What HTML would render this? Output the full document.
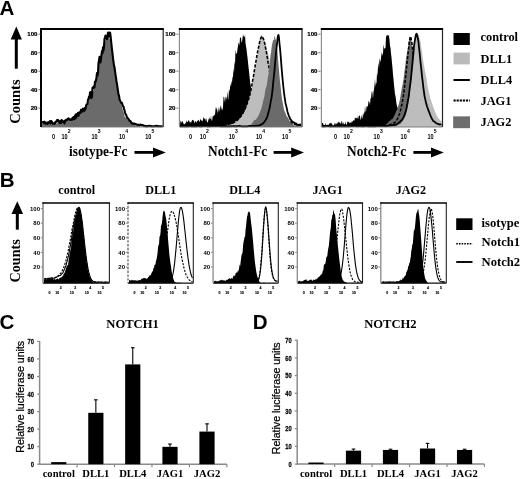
<!DOCTYPE html>
<html><head><meta charset="utf-8"><title>Figure</title>
<style>html,body{margin:0;padding:0;background:#fff;width:520px;height:479px;overflow:hidden;font-family:"Liberation Sans",sans-serif}svg{display:block;filter:blur(0.3px)}</style>
</head><body>
<svg width="520" height="479" viewBox="0 0 520 479"><text x="-0.6" y="14.8" font-family="Liberation Sans, sans-serif" font-weight="bold" font-size="20.6">A</text>
<rect x="14.80" y="38.50" width="3.00" height="30.20" fill="#000"/>
<path d="M16.30,26.40 L10.70,39.50 L21.90,39.50 Z" fill="#000"/>
<text transform="translate(20.4,123.8) rotate(-90)" font-family="Liberation Serif, serif" font-weight="bold" font-size="14.5">Counts</text>
<path d="M42.00,127.10 L42.00,123.91 L42.50,123.41 L43.00,123.73 L43.50,124.19 L44.00,123.92 L44.50,123.53 L45.00,123.18 L45.50,123.06 L46.00,123.29 L46.50,123.07 L47.00,122.24 L47.50,122.43 L48.00,122.67 L48.50,123.22 L49.00,123.39 L49.50,123.31 L50.00,123.31 L50.50,123.85 L51.00,123.70 L51.50,123.36 L52.00,122.85 L52.50,122.80 L53.00,123.19 L53.50,122.93 L54.00,123.19 L54.50,123.25 L55.00,123.70 L55.50,123.90 L56.00,124.09 L56.50,123.60 L57.00,122.99 L57.50,122.64 L58.00,122.36 L58.50,122.28 L59.00,122.29 L59.50,121.91 L60.00,121.92 L60.50,122.53 L61.00,122.44 L61.50,122.80 L62.00,122.30 L62.50,122.35 L63.00,121.99 L63.50,122.01 L64.00,121.85 L64.50,121.79 L65.00,121.22 L65.50,121.41 L66.00,120.86 L66.50,121.24 L67.00,120.69 L67.50,120.58 L68.00,120.42 L68.50,120.73 L69.00,120.24 L69.50,120.22 L70.00,119.61 L70.50,119.87 L71.00,119.72 L71.50,119.44 L72.00,118.96 L72.50,118.91 L73.00,118.77 L73.50,119.18 L74.00,119.13 L74.50,119.16 L75.00,118.89 L75.50,118.27 L76.00,117.76 L76.50,117.20 L77.00,116.46 L77.50,115.58 L78.00,115.04 L78.50,114.59 L79.00,114.10 L79.50,114.09 L80.00,114.23 L80.50,113.36 L81.00,113.03 L81.50,112.23 L82.00,111.65 L82.50,112.13 L83.00,110.52 L83.50,108.95 L84.00,108.94 L84.50,108.03 L85.00,107.62 L85.50,107.55 L86.00,106.31 L86.50,106.32 L87.00,105.71 L87.50,104.55 L88.00,103.88 L88.50,102.30 L89.00,101.16 L89.50,99.59 L90.00,98.03 L90.50,97.45 L91.00,97.41 L91.50,96.56 L92.00,95.74 L92.50,93.60 L93.00,91.65 L93.50,91.23 L94.00,89.41 L94.50,86.25 L95.00,83.98 L95.50,83.68 L96.00,81.58 L96.50,79.09 L97.00,75.72 L97.50,74.17 L98.00,72.70 L98.50,70.20 L99.00,64.50 L99.50,62.27 L100.00,61.48 L100.50,58.70 L101.00,55.68 L101.50,51.56 L102.00,49.89 L102.50,49.93 L103.00,47.63 L103.50,44.42 L104.00,43.12 L104.50,40.88 L105.00,42.20 L105.50,40.62 L106.00,39.30 L106.50,39.13 L107.00,38.79 L107.50,38.80 L108.00,37.72 L108.50,36.37 L109.00,37.30 L109.50,38.39 L110.00,39.73 L110.50,42.05 L111.00,45.05 L111.50,49.03 L112.00,53.53 L112.50,55.51 L113.00,58.10 L113.50,62.22 L114.00,66.81 L114.50,70.90 L115.00,74.10 L115.50,76.46 L116.00,79.37 L116.50,83.25 L117.00,86.58 L117.50,90.50 L118.00,91.66 L118.50,94.16 L119.00,97.44 L119.50,100.60 L120.00,103.47 L120.50,103.34 L121.00,103.53 L121.50,105.58 L122.00,107.30 L122.50,108.96 L123.00,110.42 L123.50,111.64 L124.00,113.82 L124.50,115.98 L125.00,117.39 L125.50,117.77 L126.00,117.36 L126.50,118.43 L127.00,119.12 L127.50,119.67 L128.00,119.44 L128.50,120.03 L129.00,121.05 L129.50,122.11 L130.00,122.53 L130.50,122.71 L131.00,122.99 L131.50,123.36 L132.00,123.01 L132.50,123.18 L133.00,123.35 L133.50,123.57 L134.00,123.71 L134.50,124.43 L135.00,125.10 L135.50,125.52 L136.00,125.41 L136.50,125.38 L137.00,125.13 L137.50,125.20 L138.00,125.23 L138.50,125.05 L139.00,125.34 L139.50,125.85 L140.00,126.33 L140.50,126.85 L141.00,126.95 L141.50,126.88 L142.00,127.02 L142.50,126.81 L143.00,126.68 L143.50,126.41 L144.00,126.07 L144.50,126.24 L145.00,126.57 L145.50,126.44 L146.00,126.77 L146.50,126.65 L147.00,126.71 L147.50,126.77 L148.00,126.58 L148.50,126.62 L149.00,126.65 L149.50,126.67 L150.00,126.96 L150.50,127.08 L151.00,127.10 L151.50,127.10 L152.00,126.74 L152.50,127.05 L153.00,127.05 L153.50,127.10 L154.00,127.10 L154.50,127.10 L155.00,127.10 L155.50,127.10 L156.00,127.10 L156.50,127.10 L157.00,126.97 L157.50,127.07 L158.00,127.10 L158.50,126.94 L159.00,126.84 L159.50,126.88 L160.00,126.99 L160.50,126.87 L161.00,126.75 L161.50,126.68 L162.00,126.94 L162.50,127.10 L162.50,127.10 Z" fill="#6b6b6b" stroke="none"/>
<path d="M42.00,123.12 L42.50,122.29 L43.00,121.99 L43.50,122.08 L44.00,123.20 L44.50,121.65 L45.00,122.57 L45.50,123.70 L46.00,122.52 L46.50,123.38 L47.00,123.59 L47.50,123.87 L48.00,122.34 L48.50,122.89 L49.00,122.14 L49.50,122.19 L50.00,121.04 L50.50,123.43 L51.00,121.83 L51.50,121.09 L52.00,122.37 L52.50,122.59 L53.00,123.79 L53.50,123.67 L54.00,123.40 L54.50,123.72 L55.00,123.46 L55.50,121.73 L56.00,121.87 L56.50,121.76 L57.00,120.03 L57.50,120.38 L58.00,119.96 L58.50,121.36 L59.00,121.05 L59.50,123.07 L60.00,121.09 L60.50,121.16 L61.00,122.92 L61.50,120.15 L62.00,121.81 L62.50,120.78 L63.00,121.89 L63.50,121.82 L64.00,121.35 L64.50,123.50 L65.00,120.64 L65.50,121.28 L66.00,119.87 L66.50,119.54 L67.00,120.07 L67.50,120.00 L68.00,118.66 L68.50,118.32 L69.00,119.50 L69.50,119.11 L70.00,119.86 L70.50,119.86 L71.00,119.35 L71.50,119.70 L72.00,119.89 L72.50,117.85 L73.00,118.59 L73.50,117.02 L74.00,117.42 L74.50,119.33 L75.00,115.74 L75.50,114.95 L76.00,117.85 L76.50,114.17 L77.00,116.20 L77.50,115.80 L78.00,112.80 L78.50,115.67 L79.00,114.23 L79.50,112.24 L80.00,112.76 L80.50,112.85 L81.00,109.71 L81.50,109.76 L82.00,109.86 L82.50,111.62 L83.00,108.47 L83.50,109.37 L84.00,109.75 L84.50,110.61 L85.00,107.82 L85.50,108.93 L86.00,106.30 L86.50,104.47 L87.00,104.25 L87.50,104.07 L88.00,99.49 L88.50,99.58 L89.00,96.48 L89.50,98.17 L90.00,92.59 L90.50,92.05 L91.00,93.89 L91.50,97.95 L92.00,96.79 L92.50,87.92 L93.00,88.17 L93.50,86.53 L94.00,87.87 L94.50,87.13 L95.00,81.54 L95.50,81.94 L96.00,80.39 L96.50,77.14 L97.00,73.12 L97.50,75.84 L98.00,72.91 L98.50,62.95 L99.00,60.37 L99.50,56.89 L100.00,61.29 L100.50,62.49 L101.00,58.51 L101.50,54.59 L102.00,51.12 L102.50,53.20 L103.00,47.33 L103.50,50.68 L104.00,46.62 L104.50,38.70 L105.00,38.00 L105.50,35.50 L106.00,38.14 L106.50,37.27 L107.00,39.32 L107.50,36.12 L108.00,32.56 L108.50,32.56 L109.00,36.55 L109.50,36.54 L110.00,32.56 L110.50,35.23 L111.00,40.23 L111.50,44.79 L112.00,49.75 L112.50,53.31 L113.00,58.15 L113.50,61.81 L114.00,65.60 L114.50,67.10 L115.00,71.10 L115.50,74.66 L116.00,77.88 L116.50,81.43 L117.00,84.02 L117.50,87.56 L118.00,91.23 L118.50,94.40 L119.00,95.69 L119.50,98.71 L120.00,100.63 L120.50,101.63 L121.00,102.75 L121.50,102.56 L122.00,103.08 L122.50,105.19 L123.00,106.37 L123.50,106.59 L124.00,108.83 L124.50,110.13 L125.00,112.48 L125.50,113.99 L126.00,114.70 L126.50,115.76 L127.00,117.56 L127.50,117.93 L128.00,118.49 L128.50,119.23 L129.00,119.77 L129.50,120.93 L130.00,121.08 L130.50,121.16 L131.00,122.29 L131.50,122.83 L132.00,123.58 L132.50,123.63 L133.00,123.34 L133.50,123.63 L134.00,123.79 L134.50,123.57 L135.00,124.03 L135.50,123.97 L136.00,124.26 L136.50,124.51 L137.00,124.68 L137.50,124.73 L138.00,124.56 L138.50,124.98 L139.00,124.94 L139.50,124.98 L140.00,124.60 L140.50,124.58 L141.00,125.09 L141.50,125.40 L142.00,125.10 L142.50,125.07 L143.00,125.28 L143.50,125.76 L144.00,125.99 L144.50,125.77 L145.00,125.98 L145.50,126.24 L146.00,126.30 L146.50,126.06 L147.00,126.09 L147.50,126.26 L148.00,126.24 L148.50,126.08 L149.00,125.84 L149.50,125.94 L150.00,125.90 L150.50,126.08 L151.00,126.03 L151.50,126.30 L152.00,126.30 L152.50,126.30 L153.00,126.30 L153.50,126.30 L154.00,126.30 L154.50,126.30 L155.00,126.30 L155.50,125.99 L156.00,125.90 L156.50,126.02 L157.00,125.86 L157.50,126.28 L158.00,126.01 L158.50,126.19 L159.00,126.30 L159.50,126.30 L160.00,126.30 L160.50,126.30 L161.00,126.30 L161.50,126.30 L162.00,126.30 L162.50,126.30" fill="none" stroke="#000" stroke-width="2.1" stroke-linejoin="round"/>
<path d="M180.00,127.10 L180.00,124.19 L180.50,121.16 L181.00,120.43 L181.50,122.66 L182.00,122.45 L182.50,120.75 L183.00,121.99 L183.50,123.90 L184.00,123.70 L184.50,124.13 L185.00,124.15 L185.50,122.58 L186.00,123.49 L186.50,119.99 L187.00,122.32 L187.50,121.80 L188.00,121.43 L188.50,120.50 L189.00,119.97 L189.50,122.02 L190.00,122.46 L190.50,121.74 L191.00,123.61 L191.50,121.30 L192.00,120.52 L192.50,119.63 L193.00,120.34 L193.50,120.57 L194.00,120.68 L194.50,123.38 L195.00,122.03 L195.50,121.52 L196.00,120.43 L196.50,123.31 L197.00,121.60 L197.50,121.12 L198.00,119.96 L198.50,119.84 L199.00,121.18 L199.50,122.36 L200.00,119.64 L200.50,119.08 L201.00,120.25 L201.50,120.72 L202.00,120.29 L202.50,121.64 L203.00,119.10 L203.50,116.67 L204.00,119.57 L204.50,118.42 L205.00,118.01 L205.50,121.29 L206.00,117.94 L206.50,119.43 L207.00,122.12 L207.50,122.52 L208.00,121.54 L208.50,119.55 L209.00,118.37 L209.50,119.60 L210.00,115.95 L210.50,119.04 L211.00,118.94 L211.50,121.34 L212.00,115.04 L212.50,120.93 L213.00,114.95 L213.50,116.39 L214.00,115.80 L214.50,114.57 L215.00,115.32 L215.50,109.09 L216.00,107.06 L216.50,108.47 L217.00,110.05 L217.50,113.81 L218.00,106.91 L218.50,112.44 L219.00,106.53 L219.50,111.89 L220.00,107.77 L220.50,104.79 L221.00,110.45 L221.50,106.29 L222.00,110.68 L222.50,109.23 L223.00,107.36 L223.50,97.12 L224.00,96.68 L224.50,99.41 L225.00,102.77 L225.50,96.96 L226.00,97.06 L226.50,100.06 L227.00,95.60 L227.50,91.20 L228.00,100.63 L228.50,97.25 L229.00,88.86 L229.50,91.98 L230.00,87.95 L230.50,83.45 L231.00,86.46 L231.50,81.32 L232.00,82.47 L232.50,77.15 L233.00,76.43 L233.50,68.02 L234.00,73.09 L234.50,61.21 L235.00,64.86 L235.50,49.25 L236.00,53.38 L236.50,53.62 L237.00,53.20 L237.50,48.94 L238.00,46.06 L238.50,42.98 L239.00,42.85 L239.50,45.72 L240.00,36.92 L240.50,37.87 L241.00,37.68 L241.50,42.72 L242.00,41.80 L242.50,38.37 L243.00,34.28 L243.50,36.28 L244.00,36.87 L244.50,37.36 L245.00,34.28 L245.50,43.06 L246.00,45.93 L246.50,49.36 L247.00,53.75 L247.50,57.43 L248.00,62.26 L248.50,67.00 L249.00,71.54 L249.50,76.12 L250.00,81.09 L250.50,84.59 L251.00,87.30 L251.50,91.61 L252.00,94.53 L252.50,95.59 L253.00,97.28 L253.50,99.54 L254.00,101.91 L254.50,104.79 L255.00,105.14 L255.50,106.94 L256.00,109.57 L256.50,111.23 L257.00,112.83 L257.50,114.14 L258.00,114.83 L258.50,116.58 L259.00,117.31 L259.50,117.80 L260.00,119.21 L260.50,119.61 L261.00,120.10 L261.50,121.61 L262.00,122.24 L262.50,122.82 L263.00,123.15 L263.50,123.10 L264.00,123.54 L264.50,123.48 L265.00,123.77 L265.50,123.98 L266.00,123.98 L266.50,124.35 L267.00,124.85 L267.50,125.04 L268.00,125.64 L268.50,125.51 L269.00,125.46 L269.50,126.09 L270.00,126.16 L270.50,126.23 L271.00,126.34 L271.50,126.14 L272.00,126.05 L272.50,126.16 L273.00,126.35 L273.50,126.36 L274.00,126.64 L274.50,126.83 L275.00,127.10 L275.50,127.10 L276.00,127.10 L276.50,127.06 L277.00,126.92 L277.50,126.52 L278.00,126.33 L278.50,126.08 L279.00,126.45 L279.50,126.19 L280.00,126.32 L280.50,126.69 L281.00,126.89 L281.50,126.90 L282.00,127.10 L282.50,126.91 L283.00,126.94 L283.50,127.10 L284.00,127.08 L284.50,127.10 L285.00,127.10 L285.50,127.10 L286.00,127.05 L286.50,127.09 L287.00,126.97 L287.50,126.96 L288.00,127.07 L288.50,126.78 L289.00,126.87 L289.50,126.96 L290.00,126.92 L290.50,126.91 L291.00,126.63 L291.50,126.47 L292.00,126.58 L292.50,126.40 L293.00,126.63 L293.50,126.47 L294.00,126.60 L294.50,126.90 L295.00,126.96 L295.50,126.89 L296.00,127.10 L296.50,127.10 L297.00,127.10 L297.50,126.93 L298.00,127.07 L298.50,126.68 L299.00,127.02 L299.50,127.06 L300.00,127.10 L300.50,126.93 L301.00,127.09 L301.00,127.10 Z" fill="#000" stroke="none"/>
<path d="M180.00,127.10 L180.00,127.10 L180.50,127.10 L181.00,127.10 L181.50,127.10 L182.00,127.10 L182.50,127.10 L183.00,127.10 L183.50,127.10 L184.00,127.10 L184.50,126.95 L185.00,126.87 L185.50,126.92 L186.00,127.01 L186.50,127.10 L187.00,126.92 L187.50,126.92 L188.00,127.03 L188.50,126.86 L189.00,126.92 L189.50,127.01 L190.00,127.10 L190.50,127.10 L191.00,127.10 L191.50,127.10 L192.00,127.10 L192.50,127.10 L193.00,127.10 L193.50,127.10 L194.00,126.84 L194.50,126.83 L195.00,126.78 L195.50,126.93 L196.00,126.73 L196.50,126.64 L197.00,126.70 L197.50,126.81 L198.00,126.87 L198.50,126.81 L199.00,126.92 L199.50,126.99 L200.00,126.93 L200.50,127.04 L201.00,127.04 L201.50,126.85 L202.00,126.95 L202.50,126.88 L203.00,126.69 L203.50,126.49 L204.00,126.57 L204.50,126.61 L205.00,126.80 L205.50,126.90 L206.00,126.63 L206.50,126.68 L207.00,126.97 L207.50,126.80 L208.00,126.80 L208.50,126.87 L209.00,126.78 L209.50,126.75 L210.00,127.02 L210.50,126.92 L211.00,126.82 L211.50,126.65 L212.00,126.36 L212.50,126.31 L213.00,126.53 L213.50,126.28 L214.00,126.40 L214.50,126.34 L215.00,126.52 L215.50,126.72 L216.00,126.80 L216.50,126.87 L217.00,127.08 L217.50,127.00 L218.00,127.10 L218.50,126.95 L219.00,126.81 L219.50,126.73 L220.00,126.67 L220.50,126.33 L221.00,126.16 L221.50,126.23 L222.00,126.37 L222.50,126.54 L223.00,126.33 L223.50,126.06 L224.00,126.13 L224.50,126.13 L225.00,125.82 L225.50,125.36 L226.00,125.21 L226.50,125.28 L227.00,125.11 L227.50,124.53 L228.00,124.19 L228.50,124.33 L229.00,124.30 L229.50,124.09 L230.00,123.89 L230.50,124.02 L231.00,124.29 L231.50,124.34 L232.00,123.66 L232.50,123.39 L233.00,123.02 L233.50,122.74 L234.00,122.48 L234.50,122.13 L235.00,121.58 L235.50,121.42 L236.00,120.80 L236.50,120.44 L237.00,120.03 L237.50,119.77 L238.00,119.16 L238.50,119.31 L239.00,118.63 L239.50,118.68 L240.00,118.16 L240.50,117.87 L241.00,116.93 L241.50,116.57 L242.00,115.05 L242.50,114.59 L243.00,113.89 L243.50,113.55 L244.00,112.20 L244.50,111.17 L245.00,110.13 L245.50,109.14 L246.00,108.05 L246.50,106.28 L247.00,104.39 L247.50,103.07 L248.00,101.47 L248.50,99.97 L249.00,98.18 L249.50,96.05 L250.00,94.86 L250.50,92.48 L251.00,89.50 L251.50,86.85 L252.00,83.02 L252.50,80.90 L253.00,78.46 L253.50,75.50 L254.00,73.22 L254.50,72.00 L255.00,69.76 L255.50,67.47 L256.00,64.10 L256.50,60.50 L257.00,56.74 L257.50,53.98 L258.00,49.83 L258.50,46.74 L259.00,43.30 L259.50,40.11 L260.00,38.25 L260.50,37.41 L261.00,35.67 L261.50,34.74 L262.00,34.36 L262.50,35.86 L263.00,37.59 L263.50,38.73 L264.00,39.06 L264.50,40.78 L265.00,43.13 L265.50,44.55 L266.00,46.00 L266.50,47.53 L267.00,49.66 L267.50,51.90 L268.00,53.32 L268.50,54.77 L269.00,56.43 L269.50,59.26 L270.00,63.59 L270.50,66.10 L271.00,68.56 L271.50,71.61 L272.00,74.14 L272.50,76.99 L273.00,79.70 L273.50,81.96 L274.00,84.47 L274.50,86.42 L275.00,88.19 L275.50,91.03 L276.00,92.75 L276.50,94.14 L277.00,95.01 L277.50,96.49 L278.00,98.39 L278.50,100.09 L279.00,100.67 L279.50,102.31 L280.00,103.78 L280.50,103.89 L281.00,104.96 L281.50,105.92 L282.00,107.30 L282.50,108.45 L283.00,109.05 L283.50,110.24 L284.00,112.14 L284.50,113.80 L285.00,114.42 L285.50,114.83 L286.00,115.33 L286.50,115.81 L287.00,116.27 L287.50,116.54 L288.00,116.47 L288.50,117.19 L289.00,117.63 L289.50,118.46 L290.00,118.93 L290.50,119.13 L291.00,119.97 L291.50,120.22 L292.00,120.69 L292.50,121.28 L293.00,121.18 L293.50,121.99 L294.00,122.21 L294.50,122.25 L295.00,122.50 L295.50,122.52 L296.00,122.29 L296.50,122.66 L297.00,122.56 L297.50,122.93 L298.00,122.98 L298.50,123.38 L299.00,123.48 L299.50,123.59 L300.00,123.81 L300.50,123.99 L301.00,124.24 L301.00,127.10 Z" fill="#bdbdbd" stroke="none"/>
<path d="M180.00,126.30 L180.50,126.29 L181.00,126.30 L181.50,126.30 L182.00,126.26 L182.50,126.30 L183.00,126.30 L183.50,126.30 L184.00,126.30 L184.50,126.24 L185.00,126.30 L185.50,126.30 L186.00,126.30 L186.50,126.30 L187.00,126.30 L187.50,126.30 L188.00,126.25 L188.50,126.20 L189.00,126.16 L189.50,126.10 L190.00,126.11 L190.50,126.09 L191.00,126.16 L191.50,126.22 L192.00,126.25 L192.50,126.20 L193.00,126.28 L193.50,126.27 L194.00,126.29 L194.50,126.21 L195.00,126.26 L195.50,126.29 L196.00,126.30 L196.50,126.30 L197.00,126.30 L197.50,126.30 L198.00,126.30 L198.50,126.30 L199.00,126.30 L199.50,126.27 L200.00,126.27 L200.50,126.23 L201.00,126.13 L201.50,126.17 L202.00,126.21 L202.50,126.15 L203.00,126.22 L203.50,126.16 L204.00,126.11 L204.50,126.12 L205.00,126.17 L205.50,126.19 L206.00,126.19 L206.50,126.19 L207.00,126.25 L207.50,126.30 L208.00,126.30 L208.50,126.23 L209.00,126.25 L209.50,126.30 L210.00,126.30 L210.50,126.30 L211.00,126.22 L211.50,126.24 L212.00,126.30 L212.50,126.25 L213.00,126.07 L213.50,126.06 L214.00,126.05 L214.50,125.96 L215.00,125.92 L215.50,125.82 L216.00,125.87 L216.50,125.86 L217.00,125.82 L217.50,125.69 L218.00,125.71 L218.50,125.65 L219.00,125.68 L219.50,125.54 L220.00,125.49 L220.50,125.43 L221.00,125.48 L221.50,125.50 L222.00,125.48 L222.50,125.40 L223.00,125.44 L223.50,125.39 L224.00,125.33 L224.50,125.21 L225.00,124.99 L225.50,124.87 L226.00,124.83 L226.50,124.73 L227.00,124.69 L227.50,124.60 L228.00,124.44 L228.50,124.39 L229.00,124.21 L229.50,124.06 L230.00,123.87 L230.50,123.57 L231.00,123.41 L231.50,123.21 L232.00,123.17 L232.50,123.18 L233.00,122.96 L233.50,122.63 L234.00,122.36 L234.50,122.18 L235.00,122.07 L235.50,121.68 L236.00,121.27 L236.50,120.78 L237.00,120.53 L237.50,120.09 L238.00,119.52 L238.50,119.01 L239.00,118.37 L239.50,117.74 L240.00,117.13 L240.50,116.36 L241.00,115.97 L241.50,115.24 L242.00,114.32 L242.50,113.55 L243.00,112.62 L243.50,111.71 L244.00,110.90 L244.50,109.91 L245.00,108.73 L245.50,107.63 L246.00,106.45 L246.50,105.07 L247.00,104.02 L247.50,102.44 L248.00,100.96 L248.50,99.59 L249.00,98.15 L249.50,96.29 L250.00,94.21 L250.50,91.83 L251.00,89.89 L251.50,86.86 L252.00,84.45 L252.50,81.10 L253.00,78.37 L253.50,76.20 L254.00,72.83 L254.50,69.69 L255.00,66.97 L255.50,63.44 L256.00,61.22 L256.50,58.05 L257.00,54.83 L257.50,52.33 L258.00,49.45 L258.50,47.50 L259.00,45.47 L259.50,42.62 L260.00,40.82 L260.50,38.82 L261.00,37.89 L261.50,36.91 L262.00,36.20 L262.50,37.06 L263.00,38.09 L263.50,39.18 L264.00,40.88 L264.50,42.52 L265.00,44.74 L265.50,47.70 L266.00,50.05 L266.50,52.67 L267.00,55.75 L267.50,58.99 L268.00,62.16 L268.50,64.81 L269.00,67.34 L269.50,70.79 L270.00,74.12 L270.50,77.12 L271.00,79.76 L271.50,82.53 L272.00,85.48 L272.50,87.56 L273.00,89.36 L273.50,91.83 L274.00,93.93 L274.50,95.92 L275.00,97.66 L275.50,99.50 L276.00,101.26 L276.50,103.28 L277.00,104.33 L277.50,105.42 L278.00,106.71 L278.50,107.98 L279.00,108.90 L279.50,110.10 L280.00,111.19 L280.50,112.42 L281.00,113.34 L281.50,114.13 L282.00,114.88 L282.50,115.75 L283.00,116.54 L283.50,117.02 L284.00,117.15 L284.50,117.93 L285.00,118.28 L285.50,118.69 L286.00,119.04 L286.50,119.39 L287.00,119.78 L287.50,120.29 L288.00,120.50 L288.50,120.99 L289.00,121.37 L289.50,121.68 L290.00,122.08 L290.50,122.34 L291.00,122.77 L291.50,122.99 L292.00,123.15 L292.50,123.49 L293.00,123.71 L293.50,123.72 L294.00,123.96 L294.50,124.15 L295.00,124.27 L295.50,124.46 L296.00,124.48 L296.50,124.67 L297.00,124.83 L297.50,124.89 L298.00,124.89 L298.50,125.02 L299.00,125.06 L299.50,125.13 L300.00,125.16 L300.50,125.24 L301.00,125.28" fill="none" stroke="#000" stroke-width="1.6" stroke-linejoin="round" stroke-dasharray="3.2,1.6"/>
<path d="M180.00,127.10 L180.00,127.10 L180.50,127.10 L181.00,127.10 L181.50,127.03 L182.00,126.94 L182.50,126.79 L183.00,126.88 L183.50,126.95 L184.00,126.85 L184.50,127.10 L185.00,127.10 L185.50,127.10 L186.00,127.10 L186.50,127.10 L187.00,127.10 L187.50,127.10 L188.00,126.93 L188.50,126.83 L189.00,126.85 L189.50,127.10 L190.00,127.10 L190.50,127.10 L191.00,127.01 L191.50,126.64 L192.00,127.08 L192.50,127.10 L193.00,127.10 L193.50,127.04 L194.00,127.07 L194.50,127.10 L195.00,127.10 L195.50,127.10 L196.00,126.95 L196.50,127.10 L197.00,126.99 L197.50,126.96 L198.00,126.90 L198.50,126.83 L199.00,126.86 L199.50,126.87 L200.00,126.75 L200.50,127.10 L201.00,127.10 L201.50,127.10 L202.00,127.10 L202.50,127.10 L203.00,127.10 L203.50,127.10 L204.00,127.10 L204.50,127.10 L205.00,127.10 L205.50,127.05 L206.00,126.91 L206.50,127.07 L207.00,127.10 L207.50,127.05 L208.00,127.10 L208.50,127.10 L209.00,127.10 L209.50,127.10 L210.00,127.10 L210.50,127.10 L211.00,127.10 L211.50,127.10 L212.00,127.10 L212.50,127.10 L213.00,127.10 L213.50,127.10 L214.00,127.10 L214.50,126.91 L215.00,126.73 L215.50,126.87 L216.00,126.89 L216.50,126.97 L217.00,127.10 L217.50,127.10 L218.00,127.10 L218.50,127.10 L219.00,127.10 L219.50,127.10 L220.00,127.10 L220.50,126.87 L221.00,126.83 L221.50,126.84 L222.00,126.83 L222.50,127.10 L223.00,127.10 L223.50,127.10 L224.00,127.09 L224.50,127.10 L225.00,126.89 L225.50,126.66 L226.00,126.12 L226.50,126.33 L227.00,126.26 L227.50,126.48 L228.00,126.25 L228.50,126.45 L229.00,126.81 L229.50,127.07 L230.00,126.57 L230.50,126.59 L231.00,126.64 L231.50,126.71 L232.00,126.56 L232.50,126.39 L233.00,126.35 L233.50,126.61 L234.00,126.80 L234.50,126.80 L235.00,126.90 L235.50,127.10 L236.00,127.10 L236.50,127.10 L237.00,127.10 L237.50,127.10 L238.00,127.10 L238.50,127.00 L239.00,126.57 L239.50,126.39 L240.00,126.61 L240.50,126.48 L241.00,126.38 L241.50,126.39 L242.00,126.48 L242.50,126.76 L243.00,126.75 L243.50,126.56 L244.00,126.41 L244.50,126.30 L245.00,126.25 L245.50,126.41 L246.00,126.26 L246.50,125.93 L247.00,125.80 L247.50,126.21 L248.00,125.82 L248.50,125.53 L249.00,125.31 L249.50,125.03 L250.00,125.52 L250.50,125.60 L251.00,124.50 L251.50,123.91 L252.00,123.13 L252.50,122.76 L253.00,122.33 L253.50,121.03 L254.00,120.47 L254.50,119.83 L255.00,120.03 L255.50,119.95 L256.00,119.46 L256.50,118.72 L257.00,118.25 L257.50,116.78 L258.00,116.85 L258.50,115.73 L259.00,114.25 L259.50,113.19 L260.00,112.03 L260.50,110.59 L261.00,109.84 L261.50,108.00 L262.00,105.79 L262.50,104.33 L263.00,101.64 L263.50,99.62 L264.00,98.17 L264.50,95.52 L265.00,91.88 L265.50,89.33 L266.00,87.84 L266.50,86.36 L267.00,83.77 L267.50,79.63 L268.00,76.56 L268.50,74.39 L269.00,71.23 L269.50,65.88 L270.00,60.39 L270.50,55.13 L271.00,52.67 L271.50,48.33 L272.00,44.45 L272.50,43.03 L273.00,40.20 L273.50,39.67 L274.00,40.46 L274.50,35.87 L275.00,36.70 L275.50,39.25 L276.00,40.23 L276.50,44.45 L277.00,48.77 L277.50,52.35 L278.00,58.59 L278.50,64.93 L279.00,70.31 L279.50,76.47 L280.00,81.39 L280.50,85.41 L281.00,90.07 L281.50,95.19 L282.00,98.89 L282.50,101.81 L283.00,104.09 L283.50,107.05 L284.00,109.45 L284.50,111.04 L285.00,112.21 L285.50,113.04 L286.00,114.76 L286.50,116.36 L287.00,117.24 L287.50,117.54 L288.00,118.62 L288.50,119.60 L289.00,120.94 L289.50,121.57 L290.00,121.84 L290.50,122.31 L291.00,122.88 L291.50,123.65 L292.00,123.84 L292.50,124.17 L293.00,124.29 L293.50,125.18 L294.00,125.57 L294.50,126.12 L295.00,125.80 L295.50,126.08 L296.00,125.86 L296.50,126.16 L297.00,125.61 L297.50,125.78 L298.00,125.47 L298.50,125.82 L299.00,126.06 L299.50,126.19 L300.00,126.25 L300.50,126.59 L301.00,126.76 L301.00,127.10 Z" fill="#6b6b6b" stroke="none"/>
<path d="M180.00,126.30 L180.50,126.30 L181.00,126.30 L181.50,126.30 L182.00,126.30 L182.50,126.24 L183.00,126.26 L183.50,126.27 L184.00,126.30 L184.50,126.30 L185.00,126.27 L185.50,126.30 L186.00,126.30 L186.50,126.30 L187.00,126.30 L187.50,126.24 L188.00,126.22 L188.50,126.24 L189.00,126.20 L189.50,126.03 L190.00,126.02 L190.50,126.20 L191.00,126.15 L191.50,126.30 L192.00,126.25 L192.50,126.15 L193.00,126.30 L193.50,126.26 L194.00,126.26 L194.50,126.30 L195.00,126.30 L195.50,126.30 L196.00,126.30 L196.50,126.30 L197.00,126.25 L197.50,126.19 L198.00,126.15 L198.50,126.20 L199.00,126.19 L199.50,126.30 L200.00,126.30 L200.50,126.30 L201.00,126.30 L201.50,126.30 L202.00,126.30 L202.50,126.20 L203.00,125.94 L203.50,125.94 L204.00,125.93 L204.50,125.78 L205.00,125.85 L205.50,125.92 L206.00,126.09 L206.50,126.01 L207.00,126.17 L207.50,126.30 L208.00,126.30 L208.50,126.23 L209.00,126.21 L209.50,126.30 L210.00,126.30 L210.50,126.28 L211.00,126.05 L211.50,126.03 L212.00,126.02 L212.50,126.06 L213.00,125.86 L213.50,125.91 L214.00,126.06 L214.50,126.22 L215.00,126.14 L215.50,126.20 L216.00,126.18 L216.50,126.16 L217.00,126.10 L217.50,125.95 L218.00,125.90 L218.50,125.98 L219.00,126.13 L219.50,126.10 L220.00,126.18 L220.50,126.30 L221.00,126.30 L221.50,126.30 L222.00,126.30 L222.50,126.26 L223.00,126.30 L223.50,126.30 L224.00,126.30 L224.50,126.30 L225.00,126.29 L225.50,126.30 L226.00,126.30 L226.50,126.27 L227.00,126.30 L227.50,126.29 L228.00,126.14 L228.50,126.30 L229.00,126.28 L229.50,126.30 L230.00,126.27 L230.50,126.08 L231.00,126.14 L231.50,126.30 L232.00,126.19 L232.50,126.11 L233.00,126.08 L233.50,126.15 L234.00,126.30 L234.50,126.12 L235.00,126.10 L235.50,126.26 L236.00,126.26 L236.50,126.27 L237.00,126.23 L237.50,126.14 L238.00,126.20 L238.50,126.00 L239.00,125.93 L239.50,125.92 L240.00,126.03 L240.50,126.21 L241.00,126.14 L241.50,126.30 L242.00,126.30 L242.50,126.30 L243.00,126.30 L243.50,126.30 L244.00,126.30 L244.50,126.30 L245.00,126.30 L245.50,126.30 L246.00,126.30 L246.50,126.30 L247.00,126.30 L247.50,126.30 L248.00,126.19 L248.50,126.08 L249.00,126.05 L249.50,125.93 L250.00,126.00 L250.50,125.93 L251.00,125.94 L251.50,126.02 L252.00,126.09 L252.50,126.10 L253.00,126.17 L253.50,126.05 L254.00,125.99 L254.50,126.05 L255.00,125.95 L255.50,125.85 L256.00,125.82 L256.50,125.69 L257.00,125.80 L257.50,125.84 L258.00,125.71 L258.50,125.60 L259.00,125.53 L259.50,125.33 L260.00,125.26 L260.50,124.95 L261.00,124.63 L261.50,124.16 L262.00,124.16 L262.50,123.79 L263.00,123.44 L263.50,122.87 L264.00,122.27 L264.50,121.53 L265.00,120.99 L265.50,120.16 L266.00,119.19 L266.50,118.43 L267.00,117.43 L267.50,115.93 L268.00,114.19 L268.50,112.33 L269.00,110.16 L269.50,108.40 L270.00,106.03 L270.50,102.84 L271.00,100.14 L271.50,97.93 L272.00,94.22 L272.50,90.08 L273.00,84.82 L273.50,79.42 L274.00,75.57 L274.50,70.40 L275.00,64.03 L275.50,58.91 L276.00,52.70 L276.50,48.25 L277.00,43.73 L277.50,38.76 L278.00,35.60 L278.50,34.99 L279.00,37.90 L279.50,43.78 L280.00,48.20 L280.50,54.00 L281.00,60.09 L281.50,66.85 L282.00,72.60 L282.50,78.39 L283.00,83.27 L283.50,88.28 L284.00,92.51 L284.50,96.42 L285.00,99.69 L285.50,102.96 L286.00,105.12 L286.50,107.02 L287.00,109.43 L287.50,111.71 L288.00,113.39 L288.50,114.75 L289.00,116.10 L289.50,117.03 L290.00,118.57 L290.50,119.42 L291.00,119.92 L291.50,120.46 L292.00,121.34 L292.50,121.76 L293.00,122.30 L293.50,122.21 L294.00,122.48 L294.50,122.82 L295.00,123.32 L295.50,123.29 L296.00,123.58 L296.50,124.17 L297.00,124.66 L297.50,124.77 L298.00,125.04 L298.50,124.95 L299.00,124.96 L299.50,124.85 L300.00,124.68 L300.50,124.51 L301.00,124.57" fill="none" stroke="#000" stroke-width="1.8" stroke-linejoin="round"/>
<path d="M322.00,127.10 L322.00,122.67 L322.50,123.28 L323.00,122.81 L323.50,124.93 L324.00,125.10 L324.50,125.58 L325.00,124.83 L325.50,122.78 L326.00,126.06 L326.50,125.49 L327.00,124.28 L327.50,125.33 L328.00,124.73 L328.50,124.70 L329.00,124.66 L329.50,123.34 L330.00,122.98 L330.50,123.57 L331.00,122.55 L331.50,123.90 L332.00,123.07 L332.50,126.06 L333.00,125.41 L333.50,126.36 L334.00,125.18 L334.50,123.69 L335.00,122.55 L335.50,123.95 L336.00,124.94 L336.50,123.77 L337.00,122.60 L337.50,123.87 L338.00,122.15 L338.50,121.40 L339.00,122.95 L339.50,122.42 L340.00,121.99 L340.50,123.41 L341.00,124.21 L341.50,121.13 L342.00,121.04 L342.50,124.66 L343.00,121.88 L343.50,123.18 L344.00,124.61 L344.50,123.97 L345.00,124.26 L345.50,121.25 L346.00,123.75 L346.50,124.88 L347.00,124.12 L347.50,121.12 L348.00,122.43 L348.50,121.44 L349.00,122.10 L349.50,122.85 L350.00,123.59 L350.50,121.93 L351.00,123.37 L351.50,122.33 L352.00,120.43 L352.50,122.07 L353.00,121.14 L353.50,119.74 L354.00,120.76 L354.50,120.46 L355.00,117.05 L355.50,118.34 L356.00,118.47 L356.50,117.64 L357.00,118.19 L357.50,118.46 L358.00,115.30 L358.50,119.55 L359.00,115.21 L359.50,115.77 L360.00,115.77 L360.50,120.29 L361.00,118.86 L361.50,114.51 L362.00,118.80 L362.50,117.97 L363.00,112.97 L363.50,116.09 L364.00,111.63 L364.50,113.57 L365.00,105.74 L365.50,110.86 L366.00,112.32 L366.50,105.84 L367.00,107.85 L367.50,105.89 L368.00,105.79 L368.50,100.50 L369.00,101.98 L369.50,102.04 L370.00,105.28 L370.50,97.70 L371.00,99.05 L371.50,92.96 L372.00,90.85 L372.50,93.54 L373.00,98.67 L373.50,91.40 L374.00,89.75 L374.50,85.14 L375.00,78.81 L375.50,86.88 L376.00,82.29 L376.50,84.25 L377.00,71.96 L377.50,76.69 L378.00,65.88 L378.50,62.78 L379.00,69.28 L379.50,57.30 L380.00,61.82 L380.50,61.25 L381.00,58.38 L381.50,50.95 L382.00,56.50 L382.50,53.70 L383.00,54.01 L383.50,44.15 L384.00,47.66 L384.50,48.68 L385.00,48.42 L385.50,48.08 L386.00,37.23 L386.50,35.68 L387.00,35.20 L387.50,35.20 L388.00,35.20 L388.50,35.21 L389.00,36.11 L389.50,39.89 L390.00,45.88 L390.50,47.80 L391.00,53.53 L391.50,57.49 L392.00,63.16 L392.50,68.03 L393.00,74.51 L393.50,79.03 L394.00,85.30 L394.50,89.28 L395.00,94.34 L395.50,96.09 L396.00,99.85 L396.50,104.07 L397.00,105.90 L397.50,107.39 L398.00,108.82 L398.50,109.41 L399.00,112.17 L399.50,113.50 L400.00,113.81 L400.50,114.68 L401.00,116.57 L401.50,118.13 L402.00,119.71 L402.50,119.86 L403.00,121.27 L403.50,121.82 L404.00,122.62 L404.50,122.54 L405.00,123.39 L405.50,123.63 L406.00,124.27 L406.50,124.28 L407.00,124.50 L407.50,124.39 L408.00,124.79 L408.50,124.48 L409.00,124.54 L409.50,124.75 L410.00,124.88 L410.50,125.31 L411.00,125.99 L411.50,126.11 L412.00,125.82 L412.50,126.13 L413.00,125.97 L413.50,126.04 L414.00,125.84 L414.50,125.72 L415.00,125.97 L415.50,126.36 L416.00,126.22 L416.50,126.36 L417.00,126.21 L417.50,126.44 L418.00,126.18 L418.50,126.03 L419.00,125.98 L419.50,126.28 L420.00,126.16 L420.50,126.41 L421.00,126.65 L421.50,126.93 L422.00,127.10 L422.50,127.06 L423.00,126.91 L423.50,127.04 L424.00,126.91 L424.50,127.09 L425.00,126.91 L425.50,126.84 L426.00,126.96 L426.50,126.70 L427.00,126.95 L427.50,127.10 L428.00,126.69 L428.50,126.86 L429.00,127.02 L429.50,127.10 L430.00,127.10 L430.50,127.10 L431.00,127.10 L431.50,127.10 L432.00,127.10 L432.50,127.10 L433.00,127.10 L433.50,127.10 L434.00,127.10 L434.50,127.10 L435.00,127.10 L435.50,127.06 L436.00,126.84 L436.50,126.80 L437.00,126.68 L437.50,126.36 L438.00,126.41 L438.50,126.63 L439.00,126.42 L439.50,126.23 L440.00,126.13 L440.50,126.33 L441.00,126.69 L441.50,126.47 L441.50,127.10 Z" fill="#000" stroke="none"/>
<path d="M322.00,127.10 L322.00,126.73 L322.50,126.84 L323.00,126.94 L323.50,126.84 L324.00,126.95 L324.50,127.10 L325.00,127.10 L325.50,127.09 L326.00,127.10 L326.50,127.10 L327.00,127.10 L327.50,127.10 L328.00,127.10 L328.50,126.91 L329.00,127.10 L329.50,127.05 L330.00,126.95 L330.50,126.99 L331.00,127.10 L331.50,126.93 L332.00,127.10 L332.50,127.03 L333.00,126.86 L333.50,126.70 L334.00,126.54 L334.50,126.32 L335.00,126.71 L335.50,126.58 L336.00,126.83 L336.50,126.81 L337.00,127.10 L337.50,127.10 L338.00,127.10 L338.50,127.10 L339.00,127.10 L339.50,126.99 L340.00,126.97 L340.50,126.88 L341.00,126.58 L341.50,126.56 L342.00,126.73 L342.50,126.86 L343.00,126.99 L343.50,127.10 L344.00,127.10 L344.50,127.10 L345.00,127.10 L345.50,127.10 L346.00,127.10 L346.50,126.98 L347.00,127.09 L347.50,127.10 L348.00,126.84 L348.50,126.92 L349.00,127.10 L349.50,127.10 L350.00,127.10 L350.50,127.10 L351.00,127.10 L351.50,127.10 L352.00,127.10 L352.50,126.99 L353.00,127.10 L353.50,127.10 L354.00,127.10 L354.50,127.10 L355.00,127.10 L355.50,127.10 L356.00,127.10 L356.50,127.10 L357.00,127.07 L357.50,126.99 L358.00,126.95 L358.50,127.10 L359.00,127.10 L359.50,127.10 L360.00,127.10 L360.50,127.10 L361.00,127.10 L361.50,127.10 L362.00,127.10 L362.50,127.10 L363.00,127.10 L363.50,127.10 L364.00,127.10 L364.50,127.10 L365.00,127.10 L365.50,127.08 L366.00,127.10 L366.50,127.10 L367.00,127.10 L367.50,126.74 L368.00,126.56 L368.50,126.41 L369.00,126.45 L369.50,126.26 L370.00,126.21 L370.50,126.45 L371.00,126.63 L371.50,126.64 L372.00,126.91 L372.50,127.10 L373.00,127.03 L373.50,127.10 L374.00,127.10 L374.50,127.10 L375.00,127.10 L375.50,126.79 L376.00,126.55 L376.50,126.44 L377.00,126.34 L377.50,126.05 L378.00,125.82 L378.50,125.82 L379.00,125.65 L379.50,125.74 L380.00,125.93 L380.50,125.93 L381.00,125.80 L381.50,125.72 L382.00,125.73 L382.50,126.01 L383.00,126.01 L383.50,125.95 L384.00,125.63 L384.50,125.60 L385.00,125.51 L385.50,124.93 L386.00,124.46 L386.50,123.89 L387.00,123.57 L387.50,123.41 L388.00,122.90 L388.50,122.00 L389.00,121.49 L389.50,120.98 L390.00,120.82 L390.50,120.50 L391.00,119.85 L391.50,119.30 L392.00,119.22 L392.50,119.04 L393.00,118.32 L393.50,116.99 L394.00,116.16 L394.50,115.34 L395.00,114.29 L395.50,112.94 L396.00,111.82 L396.50,110.59 L397.00,110.09 L397.50,108.58 L398.00,106.43 L398.50,105.33 L399.00,103.49 L399.50,101.46 L400.00,98.79 L400.50,95.97 L401.00,92.64 L401.50,89.93 L402.00,87.00 L402.50,85.35 L403.00,81.53 L403.50,79.54 L404.00,75.35 L404.50,70.48 L405.00,67.99 L405.50,63.25 L406.00,58.68 L406.50,55.83 L407.00,52.68 L407.50,49.95 L408.00,47.46 L408.50,42.25 L409.00,40.56 L409.50,38.38 L410.00,37.25 L410.50,36.67 L411.00,38.48 L411.50,42.03 L412.00,47.20 L412.50,49.52 L413.00,53.06 L413.50,56.51 L414.00,60.68 L414.50,65.74 L415.00,69.62 L415.50,73.14 L416.00,77.02 L416.50,80.84 L417.00,84.02 L417.50,87.14 L418.00,89.72 L418.50,93.18 L419.00,96.16 L419.50,100.29 L420.00,103.22 L420.50,105.61 L421.00,108.25 L421.50,110.56 L422.00,112.61 L422.50,113.94 L423.00,115.27 L423.50,116.37 L424.00,117.74 L424.50,118.55 L425.00,119.40 L425.50,120.78 L426.00,121.73 L426.50,121.61 L427.00,121.69 L427.50,122.33 L428.00,122.40 L428.50,122.40 L429.00,122.26 L429.50,122.74 L430.00,123.45 L430.50,124.17 L431.00,124.31 L431.50,125.13 L432.00,125.77 L432.50,126.00 L433.00,126.10 L433.50,126.11 L434.00,126.31 L434.50,126.31 L435.00,126.02 L435.50,126.09 L436.00,126.08 L436.50,125.87 L437.00,126.03 L437.50,125.84 L438.00,126.08 L438.50,126.30 L439.00,126.25 L439.50,126.42 L440.00,126.45 L440.50,126.58 L441.00,126.98 L441.50,127.06 L441.50,127.10 Z" fill="#6b6b6b" stroke="none"/>
<path d="M322.00,126.25 L322.50,126.30 L323.00,126.18 L323.50,126.20 L324.00,126.26 L324.50,126.25 L325.00,126.22 L325.50,126.12 L326.00,126.04 L326.50,126.13 L327.00,126.20 L327.50,126.26 L328.00,126.27 L328.50,126.20 L329.00,126.26 L329.50,126.28 L330.00,126.30 L330.50,126.29 L331.00,126.29 L331.50,126.30 L332.00,126.30 L332.50,126.30 L333.00,126.30 L333.50,126.30 L334.00,126.25 L334.50,126.15 L335.00,126.15 L335.50,126.30 L336.00,126.30 L336.50,126.30 L337.00,126.30 L337.50,126.30 L338.00,126.30 L338.50,126.30 L339.00,126.30 L339.50,126.30 L340.00,126.30 L340.50,126.28 L341.00,126.30 L341.50,126.30 L342.00,126.30 L342.50,126.30 L343.00,126.30 L343.50,126.30 L344.00,126.30 L344.50,126.18 L345.00,126.19 L345.50,126.19 L346.00,126.12 L346.50,126.18 L347.00,126.22 L347.50,126.30 L348.00,126.30 L348.50,126.30 L349.00,126.30 L349.50,126.30 L350.00,126.30 L350.50,126.30 L351.00,126.30 L351.50,126.23 L352.00,126.26 L352.50,126.20 L353.00,126.20 L353.50,126.18 L354.00,126.22 L354.50,126.24 L355.00,126.30 L355.50,126.30 L356.00,126.28 L356.50,126.28 L357.00,126.30 L357.50,126.30 L358.00,126.30 L358.50,126.30 L359.00,126.30 L359.50,126.30 L360.00,126.30 L360.50,126.30 L361.00,126.30 L361.50,126.28 L362.00,126.24 L362.50,126.25 L363.00,126.25 L363.50,126.21 L364.00,126.13 L364.50,126.23 L365.00,126.26 L365.50,126.30 L366.00,126.17 L366.50,126.15 L367.00,126.29 L367.50,126.30 L368.00,126.30 L368.50,126.30 L369.00,126.30 L369.50,126.30 L370.00,126.30 L370.50,126.30 L371.00,126.30 L371.50,126.30 L372.00,126.30 L372.50,126.30 L373.00,126.30 L373.50,126.30 L374.00,126.30 L374.50,126.23 L375.00,126.12 L375.50,126.12 L376.00,126.17 L376.50,126.11 L377.00,126.05 L377.50,126.01 L378.00,126.15 L378.50,126.19 L379.00,126.22 L379.50,126.23 L380.00,126.24 L380.50,126.30 L381.00,126.30 L381.50,126.27 L382.00,126.23 L382.50,126.11 L383.00,126.05 L383.50,126.03 L384.00,125.74 L384.50,125.73 L385.00,125.82 L385.50,125.80 L386.00,125.65 L386.50,125.73 L387.00,125.68 L387.50,125.58 L388.00,125.34 L388.50,125.17 L389.00,125.00 L389.50,125.05 L390.00,124.64 L390.50,124.38 L391.00,124.31 L391.50,124.12 L392.00,123.95 L392.50,123.67 L393.00,123.37 L393.50,123.14 L394.00,122.86 L394.50,122.69 L395.00,122.26 L395.50,121.72 L396.00,121.20 L396.50,120.52 L397.00,119.66 L397.50,118.85 L398.00,117.52 L398.50,116.50 L399.00,115.26 L399.50,113.77 L400.00,111.84 L400.50,110.15 L401.00,108.02 L401.50,106.02 L402.00,103.73 L402.50,100.78 L403.00,97.91 L403.50,94.67 L404.00,90.89 L404.50,87.05 L405.00,82.34 L405.50,77.57 L406.00,73.45 L406.50,68.22 L407.00,63.33 L407.50,58.37 L408.00,53.48 L408.50,49.39 L409.00,45.12 L409.50,40.96 L410.00,38.17 L410.50,36.34 L411.00,38.15 L411.50,40.76 L412.00,43.86 L412.50,48.23 L413.00,53.05 L413.50,59.24 L414.00,65.39 L414.50,70.38 L415.00,75.50 L415.50,81.29 L416.00,85.74 L416.50,90.31 L417.00,93.49 L417.50,96.65 L418.00,99.92 L418.50,102.76 L419.00,105.16 L419.50,107.78 L420.00,109.51 L420.50,111.63 L421.00,113.39 L421.50,114.95 L422.00,116.24 L422.50,117.42 L423.00,118.18 L423.50,119.41 L424.00,120.45 L424.50,121.17 L425.00,121.91 L425.50,122.60 L426.00,122.93 L426.50,123.53 L427.00,123.82 L427.50,124.01 L428.00,124.24 L428.50,124.43 L429.00,124.57 L429.50,124.66 L430.00,124.79 L430.50,124.99 L431.00,125.03 L431.50,125.11 L432.00,125.15 L432.50,125.21 L433.00,125.49 L433.50,125.66 L434.00,125.69 L434.50,125.78 L435.00,125.95 L435.50,126.05 L436.00,126.08 L436.50,126.11 L437.00,126.10 L437.50,126.12 L438.00,126.16 L438.50,126.09 L439.00,126.06 L439.50,126.07 L440.00,126.15 L440.50,126.14 L441.00,126.25 L441.50,126.25" fill="none" stroke="#000" stroke-width="1.6" stroke-linejoin="round" stroke-dasharray="3.2,1.6"/>
<path d="M322.00,127.10 L322.00,126.88 L322.50,126.88 L323.00,126.88 L323.50,126.65 L324.00,126.61 L324.50,126.81 L325.00,127.10 L325.50,127.10 L326.00,127.08 L326.50,127.10 L327.00,127.10 L327.50,127.10 L328.00,127.03 L328.50,126.94 L329.00,127.03 L329.50,126.98 L330.00,126.86 L330.50,126.97 L331.00,126.98 L331.50,127.10 L332.00,127.10 L332.50,127.10 L333.00,127.10 L333.50,127.10 L334.00,127.06 L334.50,127.07 L335.00,126.88 L335.50,126.63 L336.00,126.53 L336.50,126.69 L337.00,126.87 L337.50,127.10 L338.00,127.10 L338.50,127.10 L339.00,127.10 L339.50,127.10 L340.00,127.10 L340.50,127.10 L341.00,127.10 L341.50,127.10 L342.00,127.10 L342.50,127.10 L343.00,127.10 L343.50,127.10 L344.00,127.10 L344.50,126.95 L345.00,127.05 L345.50,127.10 L346.00,127.06 L346.50,127.10 L347.00,127.10 L347.50,126.99 L348.00,127.06 L348.50,126.97 L349.00,126.89 L349.50,127.10 L350.00,127.10 L350.50,127.10 L351.00,127.10 L351.50,127.10 L352.00,127.10 L352.50,127.10 L353.00,127.10 L353.50,127.02 L354.00,127.10 L354.50,127.10 L355.00,127.10 L355.50,127.02 L356.00,126.97 L356.50,126.72 L357.00,126.72 L357.50,126.73 L358.00,126.54 L358.50,126.66 L359.00,126.81 L359.50,127.10 L360.00,127.10 L360.50,127.10 L361.00,127.10 L361.50,127.10 L362.00,127.10 L362.50,127.07 L363.00,126.71 L363.50,126.73 L364.00,126.69 L364.50,126.68 L365.00,126.58 L365.50,126.68 L366.00,126.76 L366.50,126.97 L367.00,126.94 L367.50,126.92 L368.00,126.92 L368.50,126.78 L369.00,126.73 L369.50,126.72 L370.00,126.57 L370.50,126.67 L371.00,127.00 L371.50,126.90 L372.00,127.08 L372.50,127.10 L373.00,127.10 L373.50,127.10 L374.00,127.09 L374.50,127.05 L375.00,127.10 L375.50,126.97 L376.00,126.78 L376.50,126.81 L377.00,126.76 L377.50,126.95 L378.00,126.84 L378.50,126.77 L379.00,126.85 L379.50,126.92 L380.00,126.83 L380.50,126.95 L381.00,126.97 L381.50,126.89 L382.00,126.99 L382.50,126.98 L383.00,127.03 L383.50,127.10 L384.00,127.10 L384.50,127.10 L385.00,127.10 L385.50,127.10 L386.00,127.10 L386.50,127.10 L387.00,126.88 L387.50,126.83 L388.00,126.75 L388.50,126.54 L389.00,126.56 L389.50,126.33 L390.00,126.35 L390.50,126.31 L391.00,126.23 L391.50,126.14 L392.00,126.23 L392.50,126.06 L393.00,125.99 L393.50,125.99 L394.00,126.24 L394.50,126.41 L395.00,126.40 L395.50,126.05 L396.00,126.19 L396.50,126.07 L397.00,125.87 L397.50,125.36 L398.00,125.15 L398.50,124.84 L399.00,124.69 L399.50,124.30 L400.00,124.05 L400.50,123.77 L401.00,123.48 L401.50,122.77 L402.00,122.15 L402.50,121.30 L403.00,120.16 L403.50,119.60 L404.00,119.06 L404.50,117.76 L405.00,116.67 L405.50,115.62 L406.00,114.28 L406.50,112.79 L407.00,110.80 L407.50,107.40 L408.00,105.23 L408.50,102.57 L409.00,98.83 L409.50,96.64 L410.00,91.76 L410.50,86.80 L411.00,82.68 L411.50,76.91 L412.00,70.88 L412.50,65.63 L413.00,58.30 L413.50,55.27 L414.00,50.05 L414.50,45.10 L415.00,42.23 L415.50,39.27 L416.00,36.25 L416.50,34.79 L417.00,34.05 L417.50,33.41 L418.00,34.17 L418.50,34.99 L419.00,36.34 L419.50,37.94 L420.00,39.45 L420.50,41.65 L421.00,45.97 L421.50,49.13 L422.00,52.18 L422.50,56.10 L423.00,59.78 L423.50,62.53 L424.00,65.23 L424.50,68.28 L425.00,70.90 L425.50,73.50 L426.00,75.99 L426.50,78.33 L427.00,81.99 L427.50,85.94 L428.00,88.06 L428.50,90.53 L429.00,93.07 L429.50,94.41 L430.00,96.84 L430.50,99.19 L431.00,100.07 L431.50,101.69 L432.00,103.46 L432.50,104.81 L433.00,106.77 L433.50,107.48 L434.00,108.82 L434.50,110.23 L435.00,111.68 L435.50,112.69 L436.00,114.17 L436.50,114.93 L437.00,116.41 L437.50,117.00 L438.00,117.53 L438.50,118.63 L439.00,119.31 L439.50,119.26 L440.00,119.94 L440.50,120.57 L441.00,120.97 L441.50,121.23 L441.50,127.10 Z" fill="#bdbdbd" stroke="none"/>
<path d="M322.00,126.30 L322.50,126.30 L323.00,126.30 L323.50,126.30 L324.00,126.10 L324.50,126.26 L325.00,126.25 L325.50,126.22 L326.00,126.19 L326.50,126.12 L327.00,126.01 L327.50,126.16 L328.00,126.08 L328.50,126.11 L329.00,126.16 L329.50,126.30 L330.00,126.30 L330.50,126.30 L331.00,126.30 L331.50,126.30 L332.00,126.30 L332.50,126.30 L333.00,126.30 L333.50,126.30 L334.00,126.30 L334.50,126.30 L335.00,126.30 L335.50,126.30 L336.00,126.30 L336.50,126.30 L337.00,126.30 L337.50,126.30 L338.00,126.30 L338.50,126.30 L339.00,126.30 L339.50,126.30 L340.00,126.30 L340.50,126.30 L341.00,126.30 L341.50,126.30 L342.00,126.30 L342.50,126.30 L343.00,126.28 L343.50,126.30 L344.00,126.30 L344.50,126.30 L345.00,126.30 L345.50,126.30 L346.00,126.30 L346.50,126.30 L347.00,126.30 L347.50,126.30 L348.00,126.30 L348.50,126.30 L349.00,126.30 L349.50,126.30 L350.00,126.24 L350.50,126.09 L351.00,126.02 L351.50,126.00 L352.00,126.05 L352.50,126.11 L353.00,126.05 L353.50,126.05 L354.00,126.10 L354.50,126.13 L355.00,126.16 L355.50,126.19 L356.00,126.17 L356.50,126.22 L357.00,126.30 L357.50,126.30 L358.00,126.30 L358.50,126.30 L359.00,126.23 L359.50,126.13 L360.00,126.19 L360.50,126.24 L361.00,126.20 L361.50,126.22 L362.00,126.30 L362.50,126.30 L363.00,126.30 L363.50,126.30 L364.00,126.27 L364.50,126.13 L365.00,125.95 L365.50,126.06 L366.00,126.10 L366.50,125.97 L367.00,126.06 L367.50,126.16 L368.00,126.30 L368.50,126.30 L369.00,126.30 L369.50,126.30 L370.00,126.30 L370.50,126.30 L371.00,126.30 L371.50,126.30 L372.00,126.30 L372.50,126.30 L373.00,126.30 L373.50,126.30 L374.00,126.30 L374.50,126.30 L375.00,126.30 L375.50,126.30 L376.00,126.06 L376.50,126.03 L377.00,125.97 L377.50,126.03 L378.00,126.02 L378.50,126.06 L379.00,126.03 L379.50,126.25 L380.00,126.09 L380.50,126.16 L381.00,126.06 L381.50,126.11 L382.00,126.08 L382.50,126.18 L383.00,126.12 L383.50,126.25 L384.00,126.11 L384.50,126.18 L385.00,126.20 L385.50,126.25 L386.00,126.20 L386.50,126.14 L387.00,126.01 L387.50,126.13 L388.00,125.88 L388.50,125.74 L389.00,125.59 L389.50,125.56 L390.00,125.44 L390.50,125.47 L391.00,125.41 L391.50,125.30 L392.00,125.27 L392.50,125.24 L393.00,125.14 L393.50,125.02 L394.00,125.12 L394.50,124.91 L395.00,124.79 L395.50,124.50 L396.00,124.48 L396.50,124.30 L397.00,124.15 L397.50,123.56 L398.00,123.27 L398.50,122.90 L399.00,122.80 L399.50,122.17 L400.00,121.70 L400.50,121.30 L401.00,120.68 L401.50,120.26 L402.00,120.02 L402.50,118.98 L403.00,118.18 L403.50,117.39 L404.00,116.14 L404.50,115.16 L405.00,113.41 L405.50,111.70 L406.00,110.33 L406.50,108.28 L407.00,105.54 L407.50,103.15 L408.00,100.17 L408.50,97.65 L409.00,94.00 L409.50,89.79 L410.00,85.60 L410.50,82.53 L411.00,77.66 L411.50,72.88 L412.00,67.61 L412.50,62.83 L413.00,57.36 L413.50,52.33 L414.00,46.12 L414.50,42.97 L415.00,39.72 L415.50,36.83 L416.00,34.35 L416.50,33.75 L417.00,34.52 L417.50,36.69 L418.00,39.09 L418.50,42.37 L419.00,47.28 L419.50,51.90 L420.00,56.76 L420.50,62.16 L421.00,66.52 L421.50,71.14 L422.00,76.06 L422.50,80.16 L423.00,84.42 L423.50,88.98 L424.00,92.17 L424.50,95.93 L425.00,98.29 L425.50,100.39 L426.00,102.78 L426.50,104.48 L427.00,106.23 L427.50,107.81 L428.00,108.85 L428.50,110.67 L429.00,111.95 L429.50,112.95 L430.00,114.41 L430.50,115.65 L431.00,116.70 L431.50,118.02 L432.00,118.93 L432.50,119.59 L433.00,120.44 L433.50,121.09 L434.00,121.29 L434.50,121.83 L435.00,122.06 L435.50,122.60 L436.00,122.96 L436.50,123.28 L437.00,123.61 L437.50,123.75 L438.00,123.90 L438.50,124.19 L439.00,124.23 L439.50,124.50 L440.00,124.44 L440.50,124.36 L441.00,124.52 L441.50,124.76" fill="none" stroke="#000" stroke-width="1.8" stroke-linejoin="round"/>
<line x1="41.00" y1="127.00" x2="163.20" y2="127.00" stroke="#777" stroke-width="0.9"/>
<line x1="163.20" y1="29.00" x2="163.20" y2="127.00" stroke="#222" stroke-width="1.2"/>
<line x1="41.00" y1="28.00" x2="41.00" y2="127.00" stroke="#000" stroke-width="2.0"/>
<line x1="40.00" y1="29.00" x2="163.80" y2="29.00" stroke="#000" stroke-width="2.0"/>
<text x="37.50" y="36.40" font-family="Liberation Sans, sans-serif" font-weight="bold" font-size="6.1" stroke="#000" stroke-width="0.2" text-anchor="end">100</text>
<line x1="38.40" y1="34.20" x2="40.50" y2="34.20" stroke="#555" stroke-width="0.8"/>
<text x="37.50" y="54.90" font-family="Liberation Sans, sans-serif" font-weight="bold" font-size="6.1" stroke="#000" stroke-width="0.2" text-anchor="end">80</text>
<line x1="38.40" y1="52.70" x2="40.50" y2="52.70" stroke="#555" stroke-width="0.8"/>
<text x="37.50" y="73.40" font-family="Liberation Sans, sans-serif" font-weight="bold" font-size="6.1" stroke="#000" stroke-width="0.2" text-anchor="end">60</text>
<line x1="38.40" y1="71.20" x2="40.50" y2="71.20" stroke="#555" stroke-width="0.8"/>
<text x="37.50" y="91.90" font-family="Liberation Sans, sans-serif" font-weight="bold" font-size="6.1" stroke="#000" stroke-width="0.2" text-anchor="end">40</text>
<line x1="38.40" y1="89.70" x2="40.50" y2="89.70" stroke="#555" stroke-width="0.8"/>
<text x="37.50" y="110.40" font-family="Liberation Sans, sans-serif" font-weight="bold" font-size="6.1" stroke="#000" stroke-width="0.2" text-anchor="end">20</text>
<line x1="38.40" y1="108.20" x2="40.50" y2="108.20" stroke="#555" stroke-width="0.8"/>
<text transform="translate(51.90,138.60) scale(0.88,1)" font-family="Liberation Sans, sans-serif" font-weight="bold" font-size="6.3">0</text>
<text transform="translate(61.50,138.60) scale(0.88,1)" font-family="Liberation Sans, sans-serif" font-weight="bold" font-size="6.3">10</text>
<text transform="translate(67.80,133.00) scale(0.88,1)" font-family="Liberation Sans, sans-serif" font-weight="bold" font-size="5.8">2</text>
<text transform="translate(91.50,138.60) scale(0.88,1)" font-family="Liberation Sans, sans-serif" font-weight="bold" font-size="6.3">10</text>
<text transform="translate(97.80,133.00) scale(0.88,1)" font-family="Liberation Sans, sans-serif" font-weight="bold" font-size="5.8">3</text>
<text transform="translate(119.00,138.60) scale(0.88,1)" font-family="Liberation Sans, sans-serif" font-weight="bold" font-size="6.3">10</text>
<text transform="translate(125.30,133.00) scale(0.88,1)" font-family="Liberation Sans, sans-serif" font-weight="bold" font-size="5.8">4</text>
<text transform="translate(145.20,138.60) scale(0.88,1)" font-family="Liberation Sans, sans-serif" font-weight="bold" font-size="6.3">10</text>
<text transform="translate(151.50,133.00) scale(0.88,1)" font-family="Liberation Sans, sans-serif" font-weight="bold" font-size="5.8">5</text>
<line x1="179.40" y1="127.00" x2="302.00" y2="127.00" stroke="#777" stroke-width="0.9"/>
<line x1="302.00" y1="29.00" x2="302.00" y2="127.00" stroke="#222" stroke-width="1.2"/>
<line x1="179.40" y1="28.00" x2="179.40" y2="127.00" stroke="#858585" stroke-width="1.1"/>
<line x1="178.85" y1="29.00" x2="302.60" y2="29.00" stroke="#000" stroke-width="2.0"/>
<text x="175.50" y="36.40" font-family="Liberation Sans, sans-serif" font-weight="bold" font-size="6.1" stroke="#000" stroke-width="0.2" text-anchor="end">100</text>
<line x1="176.40" y1="34.20" x2="178.50" y2="34.20" stroke="#555" stroke-width="0.8"/>
<text x="175.50" y="54.90" font-family="Liberation Sans, sans-serif" font-weight="bold" font-size="6.1" stroke="#000" stroke-width="0.2" text-anchor="end">80</text>
<line x1="176.40" y1="52.70" x2="178.50" y2="52.70" stroke="#555" stroke-width="0.8"/>
<text x="175.50" y="73.40" font-family="Liberation Sans, sans-serif" font-weight="bold" font-size="6.1" stroke="#000" stroke-width="0.2" text-anchor="end">60</text>
<line x1="176.40" y1="71.20" x2="178.50" y2="71.20" stroke="#555" stroke-width="0.8"/>
<text x="175.50" y="91.90" font-family="Liberation Sans, sans-serif" font-weight="bold" font-size="6.1" stroke="#000" stroke-width="0.2" text-anchor="end">40</text>
<line x1="176.40" y1="89.70" x2="178.50" y2="89.70" stroke="#555" stroke-width="0.8"/>
<text x="175.50" y="110.40" font-family="Liberation Sans, sans-serif" font-weight="bold" font-size="6.1" stroke="#000" stroke-width="0.2" text-anchor="end">20</text>
<line x1="176.40" y1="108.20" x2="178.50" y2="108.20" stroke="#555" stroke-width="0.8"/>
<text transform="translate(188.90,138.60) scale(0.88,1)" font-family="Liberation Sans, sans-serif" font-weight="bold" font-size="6.3">0</text>
<text transform="translate(199.80,138.60) scale(0.88,1)" font-family="Liberation Sans, sans-serif" font-weight="bold" font-size="6.3">10</text>
<text transform="translate(206.10,133.00) scale(0.88,1)" font-family="Liberation Sans, sans-serif" font-weight="bold" font-size="5.8">2</text>
<text transform="translate(228.70,138.60) scale(0.88,1)" font-family="Liberation Sans, sans-serif" font-weight="bold" font-size="6.3">10</text>
<text transform="translate(235.00,133.00) scale(0.88,1)" font-family="Liberation Sans, sans-serif" font-weight="bold" font-size="5.8">3</text>
<text transform="translate(256.00,138.60) scale(0.88,1)" font-family="Liberation Sans, sans-serif" font-weight="bold" font-size="6.3">10</text>
<text transform="translate(262.30,133.00) scale(0.88,1)" font-family="Liberation Sans, sans-serif" font-weight="bold" font-size="5.8">4</text>
<text transform="translate(282.10,138.60) scale(0.88,1)" font-family="Liberation Sans, sans-serif" font-weight="bold" font-size="6.3">10</text>
<text transform="translate(288.40,133.00) scale(0.88,1)" font-family="Liberation Sans, sans-serif" font-weight="bold" font-size="5.8">5</text>
<line x1="321.40" y1="127.00" x2="442.50" y2="127.00" stroke="#777" stroke-width="0.9"/>
<line x1="442.50" y1="29.00" x2="442.50" y2="127.00" stroke="#222" stroke-width="1.2"/>
<line x1="321.40" y1="28.00" x2="321.40" y2="127.00" stroke="#858585" stroke-width="1.1"/>
<line x1="320.85" y1="29.00" x2="443.10" y2="29.00" stroke="#000" stroke-width="2.0"/>
<text x="317.50" y="36.40" font-family="Liberation Sans, sans-serif" font-weight="bold" font-size="6.1" stroke="#000" stroke-width="0.2" text-anchor="end">100</text>
<line x1="318.40" y1="34.20" x2="320.50" y2="34.20" stroke="#555" stroke-width="0.8"/>
<text x="317.50" y="54.90" font-family="Liberation Sans, sans-serif" font-weight="bold" font-size="6.1" stroke="#000" stroke-width="0.2" text-anchor="end">80</text>
<line x1="318.40" y1="52.70" x2="320.50" y2="52.70" stroke="#555" stroke-width="0.8"/>
<text x="317.50" y="73.40" font-family="Liberation Sans, sans-serif" font-weight="bold" font-size="6.1" stroke="#000" stroke-width="0.2" text-anchor="end">60</text>
<line x1="318.40" y1="71.20" x2="320.50" y2="71.20" stroke="#555" stroke-width="0.8"/>
<text x="317.50" y="91.90" font-family="Liberation Sans, sans-serif" font-weight="bold" font-size="6.1" stroke="#000" stroke-width="0.2" text-anchor="end">40</text>
<line x1="318.40" y1="89.70" x2="320.50" y2="89.70" stroke="#555" stroke-width="0.8"/>
<text x="317.50" y="110.40" font-family="Liberation Sans, sans-serif" font-weight="bold" font-size="6.1" stroke="#000" stroke-width="0.2" text-anchor="end">20</text>
<line x1="318.40" y1="108.20" x2="320.50" y2="108.20" stroke="#555" stroke-width="0.8"/>
<text transform="translate(333.90,138.60) scale(0.88,1)" font-family="Liberation Sans, sans-serif" font-weight="bold" font-size="6.3">0</text>
<text transform="translate(343.60,138.60) scale(0.88,1)" font-family="Liberation Sans, sans-serif" font-weight="bold" font-size="6.3">10</text>
<text transform="translate(349.90,133.00) scale(0.88,1)" font-family="Liberation Sans, sans-serif" font-weight="bold" font-size="5.8">2</text>
<text transform="translate(373.60,138.60) scale(0.88,1)" font-family="Liberation Sans, sans-serif" font-weight="bold" font-size="6.3">10</text>
<text transform="translate(379.90,133.00) scale(0.88,1)" font-family="Liberation Sans, sans-serif" font-weight="bold" font-size="5.8">3</text>
<text transform="translate(400.60,138.60) scale(0.88,1)" font-family="Liberation Sans, sans-serif" font-weight="bold" font-size="6.3">10</text>
<text transform="translate(406.90,133.00) scale(0.88,1)" font-family="Liberation Sans, sans-serif" font-weight="bold" font-size="5.8">4</text>
<text transform="translate(427.50,138.60) scale(0.88,1)" font-family="Liberation Sans, sans-serif" font-weight="bold" font-size="6.3">10</text>
<text transform="translate(433.80,133.00) scale(0.88,1)" font-family="Liberation Sans, sans-serif" font-weight="bold" font-size="5.8">5</text>
<text transform="translate(69.00,155.6) scale(0.92,1)" font-family="Liberation Serif, serif" font-weight="bold" font-size="14.5">isotype-Fc</text>
<text transform="translate(208.00,155.6) scale(0.92,1)" font-family="Liberation Serif, serif" font-weight="bold" font-size="14.5">Notch1-Fc</text>
<text transform="translate(347.00,155.6) scale(0.92,1)" font-family="Liberation Serif, serif" font-weight="bold" font-size="14.5">Notch2-Fc</text>
<rect x="134.50" y="151.00" width="19.50" height="2.80" fill="#000"/>
<path d="M165.80,152.40 L153.00,147.40 L153.00,157.40 Z" fill="#000"/>
<rect x="273.60" y="151.00" width="18.60" height="2.80" fill="#000"/>
<path d="M304.00,152.40 L291.20,147.40 L291.20,157.40 Z" fill="#000"/>
<rect x="413.40" y="151.00" width="18.60" height="2.80" fill="#000"/>
<path d="M443.80,152.40 L431.00,147.40 L431.00,157.40 Z" fill="#000"/>
<rect x="453.50" y="33" width="16.30" height="12" fill="#000"/>
<rect x="453.50" y="52.6" width="16.30" height="11.8" fill="#bababa"/>
<line x1="453.50" y1="80" x2="469.80" y2="80" stroke="#000" stroke-width="2"/>
<line x1="453.50" y1="100.4" x2="469.80" y2="100.4" stroke="#000" stroke-width="2.0" stroke-dasharray="2.2,0.9"/>
<rect x="453.50" y="116.8" width="16.30" height="11.1" fill="#6e6e6e" stroke="#555" stroke-width="0.5"/>
<text transform="translate(480.5,40.90) scale(0.93,1)" font-family="Liberation Serif, serif" font-weight="bold" font-size="13.3">control</text>
<text transform="translate(480.5,62.80) scale(0.93,1)" font-family="Liberation Serif, serif" font-weight="bold" font-size="13.3">DLL1</text>
<text transform="translate(480.5,84.00) scale(0.93,1)" font-family="Liberation Serif, serif" font-weight="bold" font-size="13.3">DLL4</text>
<text transform="translate(480.5,104.60) scale(0.93,1)" font-family="Liberation Serif, serif" font-weight="bold" font-size="13.3">JAG1</text>
<text transform="translate(480.5,125.90) scale(0.93,1)" font-family="Liberation Serif, serif" font-weight="bold" font-size="13.3">JAG2</text>
<text x="-0.2" y="186.6" font-family="Liberation Sans, sans-serif" font-weight="bold" font-size="20.6">B</text>
<rect x="15.80" y="213.00" width="3.00" height="16.70" fill="#000"/>
<path d="M17.30,201.30 L11.50,214.00 L23.10,214.00 Z" fill="#000"/>
<text transform="translate(20.4,282.6) rotate(-90)" font-family="Liberation Serif, serif" font-weight="bold" font-size="14.2">Counts</text>
<path d="M44.00,283.20 L44.00,279.55 L44.50,279.87 L45.00,279.05 L45.50,278.66 L46.00,279.57 L46.50,279.26 L47.00,279.03 L47.50,278.91 L48.00,279.17 L48.50,278.46 L49.00,279.31 L49.50,278.25 L50.00,278.26 L50.50,278.21 L51.00,278.86 L51.50,278.95 L52.00,278.72 L52.50,278.57 L53.00,278.65 L53.50,279.59 L54.00,279.37 L54.50,279.04 L55.00,279.49 L55.50,279.44 L56.00,279.51 L56.50,279.08 L57.00,278.65 L57.50,278.71 L58.00,278.55 L58.50,279.73 L59.00,278.49 L59.50,278.19 L60.00,278.10 L60.50,277.39 L61.00,277.19 L61.50,277.18 L62.00,277.29 L62.50,275.41 L63.00,276.43 L63.50,274.18 L64.00,273.23 L64.50,272.95 L65.00,271.88 L65.50,270.03 L66.00,268.35 L66.50,267.24 L67.00,264.96 L67.50,265.25 L68.00,265.79 L68.50,260.88 L69.00,258.21 L69.50,254.34 L70.00,252.21 L70.50,249.45 L71.00,248.77 L71.50,240.93 L72.00,238.54 L72.50,233.51 L73.00,233.22 L73.50,228.24 L74.00,225.63 L74.50,220.76 L75.00,220.46 L75.50,216.28 L76.00,215.96 L76.50,213.47 L77.00,210.51 L77.50,209.05 L78.00,206.76 L78.50,207.28 L79.00,206.76 L79.50,206.76 L80.00,210.37 L80.50,212.30 L81.00,214.05 L81.50,217.26 L82.00,220.38 L82.50,225.99 L83.00,231.16 L83.50,234.44 L84.00,239.48 L84.50,244.55 L85.00,249.00 L85.50,253.51 L86.00,256.37 L86.50,260.11 L87.00,264.82 L87.50,268.25 L88.00,270.30 L88.50,272.55 L89.00,274.59 L89.50,276.47 L90.00,277.65 L90.50,278.70 L91.00,279.71 L91.50,280.79 L92.00,281.36 L92.50,281.85 L93.00,282.06 L93.50,282.31 L94.00,282.55 L94.50,282.27 L95.00,282.31 L95.50,282.26 L96.00,282.37 L96.50,282.76 L97.00,282.83 L97.50,282.79 L98.00,283.13 L98.50,283.20 L99.00,283.20 L99.50,283.20 L100.00,283.20 L100.50,283.20 L101.00,283.20 L101.50,283.20 L102.00,283.20 L102.50,283.20 L103.00,283.01 L103.50,282.73 L104.00,282.76 L104.50,282.61 L105.00,282.84 L105.50,282.77 L106.00,282.93 L106.50,283.03 L107.00,283.17 L107.50,283.01 L108.00,283.20 L108.50,283.08 L108.50,283.20 Z" fill="#000" stroke="none"/>
<path d="M44.00,278.79 L44.50,278.72 L45.00,278.65 L45.50,278.67 L46.00,278.49 L46.50,278.55 L47.00,278.24 L47.50,278.38 L48.00,278.27 L48.50,278.36 L49.00,278.31 L49.50,278.29 L50.00,278.18 L50.50,278.30 L51.00,278.16 L51.50,278.11 L52.00,278.10 L52.50,278.03 L53.00,278.01 L53.50,277.82 L54.00,277.76 L54.50,277.65 L55.00,277.55 L55.50,277.27 L56.00,277.21 L56.50,276.76 L57.00,276.63 L57.50,276.19 L58.00,275.84 L58.50,275.59 L59.00,275.28 L59.50,274.48 L60.00,273.93 L60.50,273.41 L61.00,272.82 L61.50,272.08 L62.00,271.15 L62.50,269.93 L63.00,269.00 L63.50,268.08 L64.00,266.60 L64.50,265.24 L65.00,263.64 L65.50,262.03 L66.00,260.21 L66.50,257.95 L67.00,256.13 L67.50,253.72 L68.00,251.55 L68.50,249.33 L69.00,246.28 L69.50,243.65 L70.00,241.29 L70.50,238.04 L71.00,235.55 L71.50,232.26 L72.00,229.46 L72.50,227.17 L73.00,225.03 L73.50,222.15 L74.00,219.77 L74.50,216.98 L75.00,214.74 L75.50,212.60 L76.00,211.10 L76.50,209.35 L77.00,208.61 L77.50,207.71 L78.00,207.70 L78.50,208.23 L79.00,208.48 L79.50,208.96 L80.00,210.53 L80.50,212.86 L81.00,216.15 L81.50,219.75 L82.00,222.72 L82.50,227.16 L83.00,231.77 L83.50,236.52 L84.00,241.18 L84.50,245.59 L85.00,249.51 L85.50,254.21 L86.00,257.77 L86.50,261.41 L87.00,264.51 L87.50,267.10 L88.00,269.65 L88.50,272.14 L89.00,274.24 L89.50,275.99 L90.00,277.29 L90.50,278.40 L91.00,279.43 L91.50,280.18 L92.00,280.77 L92.50,280.99 L93.00,281.31 L93.50,281.55 L94.00,281.72 L94.50,281.86 L95.00,281.91 L95.50,282.00 L96.00,282.08 L96.50,282.18 L97.00,282.14 L97.50,282.20 L98.00,282.16 L98.50,282.20 L99.00,282.16 L99.50,282.12 L100.00,282.04 L100.50,282.11 L101.00,282.09 L101.50,282.17 L102.00,282.18 L102.50,282.20 L103.00,282.20 L103.50,282.20 L104.00,282.20 L104.50,282.20 L105.00,282.20 L105.50,282.11 L106.00,282.13 L106.50,282.07 L107.00,282.07 L107.50,282.10 L108.00,282.09 L108.50,282.15" fill="none" stroke="#000" stroke-width="1.1" stroke-linejoin="round" stroke-dasharray="2.2,1.3"/>
<path d="M44.00,278.74 L44.50,278.81 L45.00,278.86 L45.50,278.87 L46.00,278.83 L46.50,278.83 L47.00,278.75 L47.50,278.86 L48.00,278.67 L48.50,278.67 L49.00,278.46 L49.50,278.38 L50.00,278.22 L50.50,278.16 L51.00,277.97 L51.50,278.05 L52.00,278.01 L52.50,278.12 L53.00,278.24 L53.50,278.27 L54.00,278.25 L54.50,278.13 L55.00,277.86 L55.50,277.75 L56.00,277.50 L56.50,277.08 L57.00,276.85 L57.50,276.66 L58.00,276.50 L58.50,276.24 L59.00,275.83 L59.50,275.56 L60.00,275.50 L60.50,275.41 L61.00,274.79 L61.50,274.24 L62.00,273.70 L62.50,273.14 L63.00,272.55 L63.50,271.46 L64.00,270.23 L64.50,269.16 L65.00,267.90 L65.50,266.81 L66.00,265.47 L66.50,263.60 L67.00,261.68 L67.50,259.61 L68.00,257.61 L68.50,255.62 L69.00,253.12 L69.50,250.24 L70.00,248.02 L70.50,245.23 L71.00,242.20 L71.50,239.09 L72.00,235.54 L72.50,231.78 L73.00,228.73 L73.50,225.44 L74.00,223.04 L74.50,220.97 L75.00,218.50 L75.50,216.08 L76.00,214.90 L76.50,213.06 L77.00,211.46 L77.50,209.80 L78.00,208.20 L78.50,207.67 L79.00,208.07 L79.50,207.78 L80.00,209.07 L80.50,211.36 L81.00,213.73 L81.50,216.63 L82.00,220.54 L82.50,224.04 L83.00,229.12 L83.50,233.82 L84.00,237.86 L84.50,242.48 L85.00,247.30 L85.50,251.42 L86.00,255.90 L86.50,259.34 L87.00,262.64 L87.50,265.82 L88.00,268.70 L88.50,271.06 L89.00,273.20 L89.50,274.85 L90.00,276.51 L90.50,277.74 L91.00,278.85 L91.50,279.67 L92.00,280.33 L92.50,280.81 L93.00,281.28 L93.50,281.51 L94.00,281.73 L94.50,281.87 L95.00,281.96 L95.50,282.04 L96.00,282.10 L96.50,282.12 L97.00,282.12 L97.50,282.13 L98.00,282.18 L98.50,282.16 L99.00,282.20 L99.50,282.20 L100.00,282.17 L100.50,282.15 L101.00,282.20 L101.50,282.20 L102.00,282.20 L102.50,282.20 L103.00,282.20 L103.50,282.20 L104.00,282.20 L104.50,282.20 L105.00,282.20 L105.50,282.17 L106.00,282.19 L106.50,282.20 L107.00,282.18 L107.50,282.19 L108.00,282.20 L108.50,282.20" fill="none" stroke="#000" stroke-width="1.1" stroke-linejoin="round"/>
<line x1="43.00" y1="283.20" x2="109.40" y2="283.20" stroke="#111" stroke-width="1.2"/>
<line x1="109.40" y1="203.00" x2="109.40" y2="283.20" stroke="#222" stroke-width="1.1"/>
<line x1="43.00" y1="202.20" x2="43.00" y2="283.20" stroke="#707070" stroke-width="1.3"/>
<line x1="42.35" y1="203.00" x2="109.95" y2="203.00" stroke="#000" stroke-width="1.6"/>
<text x="40.00" y="210.70" font-family="Liberation Sans, sans-serif" font-weight="bold" font-size="6" text-anchor="end">100</text>
<line x1="40.80" y1="208.60" x2="42.50" y2="208.60" stroke="#555" stroke-width="0.7"/>
<text x="40.00" y="225.30" font-family="Liberation Sans, sans-serif" font-weight="bold" font-size="6" text-anchor="end">80</text>
<line x1="40.80" y1="223.20" x2="42.50" y2="223.20" stroke="#555" stroke-width="0.7"/>
<text x="40.00" y="239.90" font-family="Liberation Sans, sans-serif" font-weight="bold" font-size="6" text-anchor="end">60</text>
<line x1="40.80" y1="237.80" x2="42.50" y2="237.80" stroke="#555" stroke-width="0.7"/>
<text x="40.00" y="254.50" font-family="Liberation Sans, sans-serif" font-weight="bold" font-size="6" text-anchor="end">40</text>
<line x1="40.80" y1="252.40" x2="42.50" y2="252.40" stroke="#555" stroke-width="0.7"/>
<text x="40.00" y="269.10" font-family="Liberation Sans, sans-serif" font-weight="bold" font-size="6" text-anchor="end">20</text>
<line x1="40.80" y1="267.00" x2="42.50" y2="267.00" stroke="#555" stroke-width="0.7"/>
<text transform="translate(48.40,293.70) scale(0.82,1)" font-family="Liberation Sans, sans-serif" font-weight="bold" font-size="4.3" stroke="#000" stroke-width="0.15">0</text>
<text transform="translate(55.20,293.70) scale(0.82,1)" font-family="Liberation Sans, sans-serif" font-weight="bold" font-size="4.3" stroke="#000" stroke-width="0.15">10</text>
<text transform="translate(59.70,288.50) scale(0.82,1)" font-family="Liberation Sans, sans-serif" font-weight="bold" font-size="4.3" stroke="#000" stroke-width="0.15">2</text>
<text transform="translate(69.80,293.70) scale(0.82,1)" font-family="Liberation Sans, sans-serif" font-weight="bold" font-size="4.3" stroke="#000" stroke-width="0.15">10</text>
<text transform="translate(74.30,288.50) scale(0.82,1)" font-family="Liberation Sans, sans-serif" font-weight="bold" font-size="4.3" stroke="#000" stroke-width="0.15">3</text>
<text transform="translate(84.80,293.70) scale(0.82,1)" font-family="Liberation Sans, sans-serif" font-weight="bold" font-size="4.3" stroke="#000" stroke-width="0.15">10</text>
<text transform="translate(89.30,288.50) scale(0.82,1)" font-family="Liberation Sans, sans-serif" font-weight="bold" font-size="4.3" stroke="#000" stroke-width="0.15">4</text>
<text transform="translate(97.60,293.70) scale(0.82,1)" font-family="Liberation Sans, sans-serif" font-weight="bold" font-size="4.3" stroke="#000" stroke-width="0.15">10</text>
<text transform="translate(102.10,288.50) scale(0.82,1)" font-family="Liberation Sans, sans-serif" font-weight="bold" font-size="4.3" stroke="#000" stroke-width="0.15">5</text>
<text transform="translate(76.75,194.3) scale(0.95,1)" font-family="Liberation Serif, serif" font-weight="bold" font-size="12.8" text-anchor="middle">control</text>
<path d="M129.00,283.20 L129.00,280.44 L129.50,279.87 L130.00,280.95 L130.50,279.85 L131.00,281.01 L131.50,279.80 L132.00,279.84 L132.50,280.43 L133.00,279.90 L133.50,280.31 L134.00,280.52 L134.50,280.25 L135.00,280.36 L135.50,280.23 L136.00,280.71 L136.50,280.50 L137.00,280.58 L137.50,280.84 L138.00,280.42 L138.50,280.24 L139.00,280.25 L139.50,279.78 L140.00,280.13 L140.50,280.17 L141.00,279.40 L141.50,278.51 L142.00,279.34 L142.50,278.39 L143.00,278.18 L143.50,277.88 L144.00,278.31 L144.50,277.91 L145.00,278.06 L145.50,278.50 L146.00,278.21 L146.50,278.91 L147.00,278.57 L147.50,278.45 L148.00,277.60 L148.50,276.75 L149.00,277.10 L149.50,274.96 L150.00,275.49 L150.50,275.16 L151.00,274.76 L151.50,272.78 L152.00,272.41 L152.50,271.16 L153.00,270.79 L153.50,267.43 L154.00,268.26 L154.50,264.56 L155.00,265.27 L155.50,263.95 L156.00,260.89 L156.50,259.59 L157.00,256.69 L157.50,253.49 L158.00,247.78 L158.50,244.41 L159.00,244.91 L159.50,236.31 L160.00,236.48 L160.50,232.95 L161.00,225.74 L161.50,224.84 L162.00,222.82 L162.50,217.55 L163.00,212.87 L163.50,210.13 L164.00,212.06 L164.50,210.87 L165.00,212.75 L165.50,216.00 L166.00,218.12 L166.50,221.83 L167.00,226.99 L167.50,232.93 L168.00,238.79 L168.50,244.74 L169.00,250.00 L169.50,255.71 L170.00,259.87 L170.50,263.60 L171.00,266.59 L171.50,270.46 L172.00,273.50 L172.50,275.93 L173.00,277.66 L173.50,279.21 L174.00,280.59 L174.50,281.83 L175.00,281.99 L175.50,282.31 L176.00,282.75 L176.50,282.79 L177.00,282.73 L177.50,282.66 L178.00,282.69 L178.50,282.70 L179.00,282.73 L179.50,282.63 L180.00,282.72 L180.50,282.82 L181.00,282.93 L181.50,282.95 L182.00,283.20 L182.50,283.20 L183.00,283.20 L183.50,283.20 L184.00,283.20 L184.50,283.20 L185.00,283.20 L185.50,283.20 L186.00,283.20 L186.50,283.20 L187.00,283.20 L187.50,283.20 L188.00,283.20 L188.50,283.19 L189.00,283.15 L189.50,282.98 L190.00,283.00 L190.50,283.12 L191.00,283.04 L191.50,282.89 L192.00,283.04 L192.50,283.04 L192.50,283.20 Z" fill="#000" stroke="none"/>
<path d="M129.00,282.20 L129.50,282.20 L130.00,282.20 L130.50,282.20 L131.00,282.20 L131.50,282.20 L132.00,282.16 L132.50,282.14 L133.00,282.12 L133.50,282.17 L134.00,282.13 L134.50,282.17 L135.00,282.19 L135.50,282.20 L136.00,282.18 L136.50,282.16 L137.00,282.05 L137.50,282.07 L138.00,282.08 L138.50,282.16 L139.00,282.20 L139.50,282.20 L140.00,282.20 L140.50,282.20 L141.00,282.20 L141.50,282.20 L142.00,282.20 L142.50,282.20 L143.00,282.20 L143.50,282.17 L144.00,282.12 L144.50,282.20 L145.00,282.17 L145.50,282.20 L146.00,282.20 L146.50,282.20 L147.00,282.16 L147.50,282.17 L148.00,282.18 L148.50,282.20 L149.00,282.20 L149.50,282.20 L150.00,282.20 L150.50,282.20 L151.00,282.20 L151.50,282.20 L152.00,282.20 L152.50,282.20 L153.00,282.09 L153.50,281.98 L154.00,281.82 L154.50,281.72 L155.00,281.62 L155.50,281.40 L156.00,281.18 L156.50,280.92 L157.00,280.60 L157.50,280.11 L158.00,279.65 L158.50,279.08 L159.00,278.18 L159.50,277.26 L160.00,276.20 L160.50,274.71 L161.00,273.13 L161.50,270.92 L162.00,268.72 L162.50,266.49 L163.00,263.58 L163.50,260.79 L164.00,257.70 L164.50,254.51 L165.00,251.22 L165.50,247.60 L166.00,243.63 L166.50,239.75 L167.00,235.39 L167.50,231.69 L168.00,227.69 L168.50,224.10 L169.00,220.16 L169.50,217.59 L170.00,215.14 L170.50,213.84 L171.00,212.08 L171.50,211.49 L172.00,211.12 L172.50,211.83 L173.00,211.96 L173.50,213.26 L174.00,213.51 L174.50,215.83 L175.00,217.65 L175.50,219.70 L176.00,221.77 L176.50,224.45 L177.00,227.15 L177.50,230.79 L178.00,233.60 L178.50,236.45 L179.00,240.24 L179.50,243.78 L180.00,247.07 L180.50,250.31 L181.00,253.60 L181.50,256.21 L182.00,259.20 L182.50,261.42 L183.00,263.74 L183.50,265.92 L184.00,268.14 L184.50,269.78 L185.00,271.49 L185.50,272.98 L186.00,274.50 L186.50,275.75 L187.00,276.79 L187.50,277.49 L188.00,278.25 L188.50,279.09 L189.00,279.69 L189.50,280.17 L190.00,280.50 L190.50,280.91 L191.00,281.24 L191.50,281.56 L192.00,281.62 L192.50,281.86" fill="none" stroke="#000" stroke-width="1.1" stroke-linejoin="round" stroke-dasharray="2.2,1.3"/>
<path d="M129.00,282.20 L129.50,282.18 L130.00,282.20 L130.50,282.20 L131.00,282.16 L131.50,282.15 L132.00,282.14 L132.50,282.16 L133.00,282.19 L133.50,282.20 L134.00,282.19 L134.50,282.20 L135.00,282.19 L135.50,282.19 L136.00,282.12 L136.50,282.19 L137.00,282.14 L137.50,282.20 L138.00,282.20 L138.50,282.20 L139.00,282.20 L139.50,282.20 L140.00,282.20 L140.50,282.20 L141.00,282.20 L141.50,282.20 L142.00,282.20 L142.50,282.20 L143.00,282.20 L143.50,282.20 L144.00,282.20 L144.50,282.19 L145.00,282.16 L145.50,282.20 L146.00,282.20 L146.50,282.20 L147.00,282.13 L147.50,282.06 L148.00,282.10 L148.50,282.11 L149.00,282.00 L149.50,282.01 L150.00,282.07 L150.50,282.16 L151.00,282.14 L151.50,282.17 L152.00,282.20 L152.50,282.20 L153.00,282.20 L153.50,282.20 L154.00,282.20 L154.50,282.20 L155.00,282.20 L155.50,282.20 L156.00,282.20 L156.50,282.20 L157.00,282.20 L157.50,282.20 L158.00,282.20 L158.50,282.20 L159.00,282.20 L159.50,282.20 L160.00,282.20 L160.50,282.20 L161.00,282.20 L161.50,282.20 L162.00,282.20 L162.50,282.20 L163.00,282.20 L163.50,282.20 L164.00,282.20 L164.50,282.20 L165.00,282.20 L165.50,282.08 L166.00,282.05 L166.50,282.09 L167.00,282.00 L167.50,281.92 L168.00,281.96 L168.50,281.79 L169.00,281.76 L169.50,281.54 L170.00,281.08 L170.50,280.62 L171.00,279.89 L171.50,278.85 L172.00,277.63 L172.50,275.87 L173.00,273.67 L173.50,271.00 L174.00,267.62 L174.50,263.81 L175.00,259.45 L175.50,254.21 L176.00,248.85 L176.50,243.18 L177.00,237.55 L177.50,231.40 L178.00,225.72 L178.50,220.04 L179.00,215.92 L179.50,211.68 L180.00,209.20 L180.50,207.59 L181.00,207.42 L181.50,207.96 L182.00,209.45 L182.50,211.75 L183.00,214.89 L183.50,218.33 L184.00,222.30 L184.50,226.99 L185.00,231.51 L185.50,236.21 L186.00,240.85 L186.50,245.54 L187.00,250.01 L187.50,253.85 L188.00,257.72 L188.50,261.40 L189.00,264.92 L189.50,267.40 L190.00,270.05 L190.50,272.27 L191.00,274.29 L191.50,275.77 L192.00,277.02 L192.50,278.04" fill="none" stroke="#000" stroke-width="1.1" stroke-linejoin="round"/>
<line x1="128.00" y1="283.20" x2="193.30" y2="283.20" stroke="#111" stroke-width="1.2"/>
<line x1="193.30" y1="203.00" x2="193.30" y2="283.20" stroke="#222" stroke-width="1.1"/>
<line x1="128.00" y1="202.20" x2="128.00" y2="283.20" stroke="#444" stroke-width="1.1" stroke-dasharray="2.4,1.4"/>
<line x1="127.45" y1="203.00" x2="193.85" y2="203.00" stroke="#000" stroke-width="1.6"/>
<text x="125.00" y="210.70" font-family="Liberation Sans, sans-serif" font-weight="bold" font-size="6" text-anchor="end">100</text>
<line x1="125.80" y1="208.60" x2="127.50" y2="208.60" stroke="#555" stroke-width="0.7"/>
<text x="125.00" y="225.30" font-family="Liberation Sans, sans-serif" font-weight="bold" font-size="6" text-anchor="end">80</text>
<line x1="125.80" y1="223.20" x2="127.50" y2="223.20" stroke="#555" stroke-width="0.7"/>
<text x="125.00" y="239.90" font-family="Liberation Sans, sans-serif" font-weight="bold" font-size="6" text-anchor="end">60</text>
<line x1="125.80" y1="237.80" x2="127.50" y2="237.80" stroke="#555" stroke-width="0.7"/>
<text x="125.00" y="254.50" font-family="Liberation Sans, sans-serif" font-weight="bold" font-size="6" text-anchor="end">40</text>
<line x1="125.80" y1="252.40" x2="127.50" y2="252.40" stroke="#555" stroke-width="0.7"/>
<text x="125.00" y="269.10" font-family="Liberation Sans, sans-serif" font-weight="bold" font-size="6" text-anchor="end">20</text>
<line x1="125.80" y1="267.00" x2="127.50" y2="267.00" stroke="#555" stroke-width="0.7"/>
<text transform="translate(133.40,293.70) scale(0.82,1)" font-family="Liberation Sans, sans-serif" font-weight="bold" font-size="4.3" stroke="#000" stroke-width="0.15">0</text>
<text transform="translate(140.20,293.70) scale(0.82,1)" font-family="Liberation Sans, sans-serif" font-weight="bold" font-size="4.3" stroke="#000" stroke-width="0.15">10</text>
<text transform="translate(144.70,288.50) scale(0.82,1)" font-family="Liberation Sans, sans-serif" font-weight="bold" font-size="4.3" stroke="#000" stroke-width="0.15">2</text>
<text transform="translate(154.80,293.70) scale(0.82,1)" font-family="Liberation Sans, sans-serif" font-weight="bold" font-size="4.3" stroke="#000" stroke-width="0.15">10</text>
<text transform="translate(159.30,288.50) scale(0.82,1)" font-family="Liberation Sans, sans-serif" font-weight="bold" font-size="4.3" stroke="#000" stroke-width="0.15">3</text>
<text transform="translate(169.80,293.70) scale(0.82,1)" font-family="Liberation Sans, sans-serif" font-weight="bold" font-size="4.3" stroke="#000" stroke-width="0.15">10</text>
<text transform="translate(174.30,288.50) scale(0.82,1)" font-family="Liberation Sans, sans-serif" font-weight="bold" font-size="4.3" stroke="#000" stroke-width="0.15">4</text>
<text transform="translate(182.60,293.70) scale(0.82,1)" font-family="Liberation Sans, sans-serif" font-weight="bold" font-size="4.3" stroke="#000" stroke-width="0.15">10</text>
<text transform="translate(187.10,288.50) scale(0.82,1)" font-family="Liberation Sans, sans-serif" font-weight="bold" font-size="4.3" stroke="#000" stroke-width="0.15">5</text>
<text transform="translate(160.70,194.3) scale(0.95,1)" font-family="Liberation Serif, serif" font-weight="bold" font-size="12.8" text-anchor="middle">DLL1</text>
<path d="M214.10,283.20 L214.10,280.43 L214.60,281.19 L215.10,280.59 L215.60,281.53 L216.10,281.36 L216.60,281.58 L217.10,281.71 L217.60,281.42 L218.10,281.46 L218.60,281.40 L219.10,281.32 L219.60,280.30 L220.10,280.14 L220.60,280.48 L221.10,279.53 L221.60,280.28 L222.10,280.51 L222.60,279.87 L223.10,280.24 L223.60,280.41 L224.10,280.18 L224.60,280.43 L225.10,280.97 L225.60,280.80 L226.10,279.92 L226.60,279.81 L227.10,279.74 L227.60,280.03 L228.10,278.76 L228.60,279.15 L229.10,278.09 L229.60,278.52 L230.10,278.43 L230.60,279.22 L231.10,278.52 L231.60,277.82 L232.10,278.72 L232.60,278.43 L233.10,276.84 L233.60,275.65 L234.10,275.27 L234.60,275.96 L235.10,275.73 L235.60,273.34 L236.10,272.71 L236.60,272.35 L237.10,272.88 L237.60,270.78 L238.10,271.66 L238.60,270.32 L239.10,268.24 L239.60,264.24 L240.10,266.20 L240.60,262.62 L241.10,258.14 L241.60,254.73 L242.10,253.96 L242.60,252.15 L243.10,245.54 L243.60,241.81 L244.10,239.40 L244.60,237.01 L245.10,236.57 L245.60,229.14 L246.10,225.65 L246.60,220.15 L247.10,216.46 L247.60,215.07 L248.10,211.07 L248.60,212.49 L249.10,211.42 L249.60,212.04 L250.10,213.53 L250.60,218.13 L251.10,222.64 L251.60,226.44 L252.10,231.29 L252.60,236.54 L253.10,241.87 L253.60,248.35 L254.10,253.73 L254.60,259.09 L255.10,263.58 L255.60,267.06 L256.10,270.76 L256.60,273.59 L257.10,275.45 L257.60,277.32 L258.10,278.70 L258.60,279.91 L259.10,281.08 L259.60,282.02 L260.10,282.39 L260.60,282.72 L261.10,282.92 L261.60,283.02 L262.10,282.94 L262.60,282.92 L263.10,282.78 L263.60,282.70 L264.10,282.70 L264.60,282.74 L265.10,282.93 L265.60,283.00 L266.10,283.08 L266.60,283.20 L267.10,283.20 L267.60,283.20 L268.10,283.19 L268.60,283.04 L269.10,283.02 L269.60,283.02 L270.10,283.08 L270.60,283.20 L271.10,283.20 L271.60,283.20 L272.10,283.20 L272.60,283.20 L273.10,283.20 L273.60,283.20 L274.10,283.06 L274.60,283.10 L275.10,283.20 L275.60,283.20 L276.10,283.17 L276.60,283.14 L277.10,283.02 L277.60,283.17 L277.60,283.20 Z" fill="#000" stroke="none"/>
<path d="M214.10,282.20 L214.60,282.20 L215.10,282.20 L215.60,282.20 L216.10,282.20 L216.60,282.20 L217.10,282.20 L217.60,282.20 L218.10,282.19 L218.60,282.19 L219.10,282.20 L219.60,282.20 L220.10,282.17 L220.60,282.11 L221.10,282.19 L221.60,282.20 L222.10,282.20 L222.60,282.20 L223.10,282.20 L223.60,282.20 L224.10,282.20 L224.60,282.20 L225.10,282.20 L225.60,282.20 L226.10,282.20 L226.60,282.19 L227.10,282.20 L227.60,282.15 L228.10,282.18 L228.60,282.18 L229.10,282.15 L229.60,282.20 L230.10,282.20 L230.60,282.20 L231.10,282.20 L231.60,282.20 L232.10,282.20 L232.60,282.20 L233.10,282.20 L233.60,282.20 L234.10,282.19 L234.60,282.20 L235.10,282.13 L235.60,282.13 L236.10,282.15 L236.60,282.20 L237.10,282.20 L237.60,282.20 L238.10,282.20 L238.60,282.20 L239.10,282.20 L239.60,282.20 L240.10,282.20 L240.60,282.20 L241.10,282.20 L241.60,282.20 L242.10,282.20 L242.60,282.20 L243.10,282.19 L243.60,282.12 L244.10,282.20 L244.60,282.09 L245.10,282.07 L245.60,282.10 L246.10,282.04 L246.60,282.08 L247.10,282.14 L247.60,282.18 L248.10,282.20 L248.60,282.20 L249.10,282.14 L249.60,282.17 L250.10,282.20 L250.60,282.06 L251.10,282.03 L251.60,282.11 L252.10,282.08 L252.60,282.19 L253.10,282.18 L253.60,282.11 L254.10,282.19 L254.60,282.18 L255.10,282.10 L255.60,282.05 L256.10,281.84 L256.60,281.67 L257.10,281.38 L257.60,280.83 L258.10,279.95 L258.60,278.60 L259.10,276.99 L259.60,274.28 L260.10,270.88 L260.60,266.21 L261.10,260.62 L261.60,254.45 L262.10,247.29 L262.60,239.18 L263.10,231.73 L263.60,224.06 L264.10,217.85 L264.60,212.94 L265.10,209.36 L265.60,208.80 L266.10,209.20 L266.60,211.63 L267.10,216.31 L267.60,222.34 L268.10,229.31 L268.60,236.51 L269.10,243.66 L269.60,251.15 L270.10,257.69 L270.60,263.19 L271.10,267.61 L271.60,271.13 L272.10,273.90 L272.60,276.11 L273.10,277.54 L273.60,278.64 L274.10,279.45 L274.60,280.11 L275.10,280.54 L275.60,280.82 L276.10,281.00 L276.60,281.17 L277.10,281.24 L277.60,281.25" fill="none" stroke="#000" stroke-width="1.1" stroke-linejoin="round" stroke-dasharray="2.2,1.3"/>
<path d="M214.10,282.16 L214.60,282.18 L215.10,282.15 L215.60,282.08 L216.10,282.01 L216.60,282.03 L217.10,282.04 L217.60,282.10 L218.10,282.02 L218.60,282.01 L219.10,282.03 L219.60,282.05 L220.10,281.99 L220.60,281.95 L221.10,281.92 L221.60,281.95 L222.10,282.03 L222.60,282.05 L223.10,282.02 L223.60,282.07 L224.10,282.13 L224.60,282.14 L225.10,282.11 L225.60,282.10 L226.10,282.11 L226.60,282.19 L227.10,282.20 L227.60,282.20 L228.10,282.20 L228.60,282.20 L229.10,282.20 L229.60,282.20 L230.10,282.20 L230.60,282.20 L231.10,282.20 L231.60,282.20 L232.10,282.20 L232.60,282.20 L233.10,282.20 L233.60,282.20 L234.10,282.20 L234.60,282.10 L235.10,282.17 L235.60,282.14 L236.10,282.07 L236.60,282.08 L237.10,282.07 L237.60,282.09 L238.10,282.14 L238.60,282.07 L239.10,282.12 L239.60,282.20 L240.10,282.19 L240.60,282.20 L241.10,282.19 L241.60,282.20 L242.10,282.11 L242.60,282.09 L243.10,282.12 L243.60,282.11 L244.10,282.11 L244.60,282.12 L245.10,282.20 L245.60,282.20 L246.10,282.20 L246.60,282.20 L247.10,282.20 L247.60,282.20 L248.10,282.20 L248.60,282.20 L249.10,282.19 L249.60,282.20 L250.10,282.20 L250.60,282.20 L251.10,282.20 L251.60,282.20 L252.10,282.20 L252.60,282.20 L253.10,282.20 L253.60,282.20 L254.10,282.20 L254.60,282.20 L255.10,282.20 L255.60,282.20 L256.10,282.20 L256.60,282.04 L257.10,281.82 L257.60,281.42 L258.10,280.73 L258.60,279.67 L259.10,278.08 L259.60,275.81 L260.10,272.80 L260.60,269.03 L261.10,264.05 L261.60,258.10 L262.10,251.25 L262.60,243.02 L263.10,234.81 L263.60,226.68 L264.10,219.15 L264.60,213.14 L265.10,208.95 L265.60,206.78 L266.10,207.49 L266.60,210.72 L267.10,214.72 L267.60,219.83 L268.10,226.18 L268.60,232.92 L269.10,240.34 L269.60,247.08 L270.10,253.80 L270.60,259.61 L271.10,264.77 L271.60,268.85 L272.10,272.08 L272.60,274.51 L273.10,276.63 L273.60,277.98 L274.10,279.06 L274.60,279.82 L275.10,280.42 L275.60,280.77 L276.10,281.12 L276.60,281.16 L277.10,281.11 L277.60,281.24" fill="none" stroke="#000" stroke-width="1.1" stroke-linejoin="round"/>
<line x1="213.10" y1="283.20" x2="278.30" y2="283.20" stroke="#111" stroke-width="1.2"/>
<line x1="278.30" y1="203.00" x2="278.30" y2="283.20" stroke="#222" stroke-width="1.1"/>
<line x1="213.10" y1="202.20" x2="213.10" y2="283.20" stroke="#8a8a8a" stroke-width="1.3"/>
<line x1="212.45" y1="203.00" x2="278.85" y2="203.00" stroke="#000" stroke-width="1.6"/>
<text x="210.10" y="210.70" font-family="Liberation Sans, sans-serif" font-weight="bold" font-size="6" text-anchor="end">100</text>
<line x1="210.90" y1="208.60" x2="212.60" y2="208.60" stroke="#555" stroke-width="0.7"/>
<text x="210.10" y="225.30" font-family="Liberation Sans, sans-serif" font-weight="bold" font-size="6" text-anchor="end">80</text>
<line x1="210.90" y1="223.20" x2="212.60" y2="223.20" stroke="#555" stroke-width="0.7"/>
<text x="210.10" y="239.90" font-family="Liberation Sans, sans-serif" font-weight="bold" font-size="6" text-anchor="end">60</text>
<line x1="210.90" y1="237.80" x2="212.60" y2="237.80" stroke="#555" stroke-width="0.7"/>
<text x="210.10" y="254.50" font-family="Liberation Sans, sans-serif" font-weight="bold" font-size="6" text-anchor="end">40</text>
<line x1="210.90" y1="252.40" x2="212.60" y2="252.40" stroke="#555" stroke-width="0.7"/>
<text x="210.10" y="269.10" font-family="Liberation Sans, sans-serif" font-weight="bold" font-size="6" text-anchor="end">20</text>
<line x1="210.90" y1="267.00" x2="212.60" y2="267.00" stroke="#555" stroke-width="0.7"/>
<text transform="translate(218.50,293.70) scale(0.82,1)" font-family="Liberation Sans, sans-serif" font-weight="bold" font-size="4.3" stroke="#000" stroke-width="0.15">0</text>
<text transform="translate(225.30,293.70) scale(0.82,1)" font-family="Liberation Sans, sans-serif" font-weight="bold" font-size="4.3" stroke="#000" stroke-width="0.15">10</text>
<text transform="translate(229.80,288.50) scale(0.82,1)" font-family="Liberation Sans, sans-serif" font-weight="bold" font-size="4.3" stroke="#000" stroke-width="0.15">2</text>
<text transform="translate(239.90,293.70) scale(0.82,1)" font-family="Liberation Sans, sans-serif" font-weight="bold" font-size="4.3" stroke="#000" stroke-width="0.15">10</text>
<text transform="translate(244.40,288.50) scale(0.82,1)" font-family="Liberation Sans, sans-serif" font-weight="bold" font-size="4.3" stroke="#000" stroke-width="0.15">3</text>
<text transform="translate(254.90,293.70) scale(0.82,1)" font-family="Liberation Sans, sans-serif" font-weight="bold" font-size="4.3" stroke="#000" stroke-width="0.15">10</text>
<text transform="translate(259.40,288.50) scale(0.82,1)" font-family="Liberation Sans, sans-serif" font-weight="bold" font-size="4.3" stroke="#000" stroke-width="0.15">4</text>
<text transform="translate(267.70,293.70) scale(0.82,1)" font-family="Liberation Sans, sans-serif" font-weight="bold" font-size="4.3" stroke="#000" stroke-width="0.15">10</text>
<text transform="translate(272.20,288.50) scale(0.82,1)" font-family="Liberation Sans, sans-serif" font-weight="bold" font-size="4.3" stroke="#000" stroke-width="0.15">5</text>
<text transform="translate(244.75,194.3) scale(0.95,1)" font-family="Liberation Serif, serif" font-weight="bold" font-size="12.8" text-anchor="middle">DLL4</text>
<path d="M298.30,283.20 L298.30,281.24 L298.80,281.50 L299.30,280.49 L299.80,281.12 L300.30,281.24 L300.80,281.72 L301.30,281.13 L301.80,281.47 L302.30,281.18 L302.80,281.55 L303.30,281.25 L303.80,279.94 L304.30,280.14 L304.80,279.72 L305.30,280.10 L305.80,279.31 L306.30,279.34 L306.80,280.38 L307.30,280.84 L307.80,281.24 L308.30,280.61 L308.80,280.75 L309.30,280.27 L309.80,279.73 L310.30,279.62 L310.80,280.28 L311.30,279.21 L311.80,280.22 L312.30,280.91 L312.80,280.47 L313.30,279.47 L313.80,279.64 L314.30,279.92 L314.80,279.63 L315.30,279.88 L315.80,278.62 L316.30,279.42 L316.80,278.71 L317.30,278.62 L317.80,277.86 L318.30,277.48 L318.80,276.78 L319.30,276.28 L319.80,276.69 L320.30,274.76 L320.80,275.59 L321.30,274.41 L321.80,273.83 L322.30,273.14 L322.80,270.50 L323.30,270.45 L323.80,265.57 L324.30,264.41 L324.80,264.04 L325.30,263.81 L325.80,261.29 L326.30,257.13 L326.80,256.79 L327.30,255.91 L327.80,251.52 L328.30,248.16 L328.80,246.28 L329.30,240.63 L329.80,235.33 L330.30,230.42 L330.80,227.68 L331.30,219.82 L331.80,219.36 L332.30,214.99 L332.80,215.06 L333.30,209.62 L333.80,211.61 L334.30,214.19 L334.80,213.54 L335.30,216.58 L335.80,222.22 L336.30,229.44 L336.80,234.21 L337.30,239.53 L337.80,244.92 L338.30,249.73 L338.80,254.54 L339.30,259.20 L339.80,263.33 L340.30,267.31 L340.80,271.19 L341.30,274.56 L341.80,276.98 L342.30,278.60 L342.80,279.91 L343.30,280.44 L343.80,281.36 L344.30,281.70 L344.80,281.86 L345.30,282.02 L345.80,282.30 L346.30,282.62 L346.80,282.85 L347.30,282.98 L347.80,283.15 L348.30,283.20 L348.80,283.20 L349.30,283.20 L349.80,283.20 L350.30,283.20 L350.80,283.20 L351.30,283.05 L351.80,283.05 L352.30,282.87 L352.80,282.98 L353.30,283.08 L353.80,283.13 L354.30,283.05 L354.80,283.06 L355.30,282.85 L355.80,282.99 L356.30,283.15 L356.80,283.10 L357.30,283.06 L357.80,283.18 L358.30,283.15 L358.80,283.20 L359.30,283.20 L359.80,283.10 L360.30,283.16 L360.80,283.12 L361.30,283.06 L361.80,283.18 L361.80,283.20 Z" fill="#000" stroke="none"/>
<path d="M298.30,282.10 L298.80,282.14 L299.30,282.20 L299.80,282.20 L300.30,282.20 L300.80,282.20 L301.30,282.20 L301.80,282.20 L302.30,282.18 L302.80,282.17 L303.30,282.17 L303.80,282.16 L304.30,282.17 L304.80,282.06 L305.30,282.17 L305.80,282.20 L306.30,282.17 L306.80,282.13 L307.30,282.20 L307.80,282.20 L308.30,282.20 L308.80,282.20 L309.30,282.20 L309.80,282.20 L310.30,282.20 L310.80,282.20 L311.30,282.20 L311.80,282.20 L312.30,282.20 L312.80,282.20 L313.30,282.20 L313.80,282.17 L314.30,282.20 L314.80,282.20 L315.30,282.20 L315.80,282.20 L316.30,282.20 L316.80,282.18 L317.30,282.20 L317.80,282.11 L318.30,282.12 L318.80,282.13 L319.30,282.11 L319.80,282.05 L320.30,281.99 L320.80,282.06 L321.30,282.05 L321.80,282.13 L322.30,282.14 L322.80,282.15 L323.30,282.18 L323.80,282.20 L324.30,282.20 L324.80,282.20 L325.30,282.20 L325.80,282.20 L326.30,282.19 L326.80,282.10 L327.30,281.96 L327.80,281.75 L328.30,281.52 L328.80,281.26 L329.30,280.72 L329.80,280.29 L330.30,279.55 L330.80,278.61 L331.30,277.44 L331.80,275.97 L332.30,274.26 L332.80,272.27 L333.30,269.83 L333.80,267.19 L334.30,264.07 L334.80,260.55 L335.30,256.20 L335.80,251.71 L336.30,247.05 L336.80,241.63 L337.30,236.43 L337.80,231.21 L338.30,226.40 L338.80,222.15 L339.30,217.63 L339.80,214.13 L340.30,211.82 L340.80,209.93 L341.30,209.22 L341.80,208.98 L342.30,210.60 L342.80,213.52 L343.30,216.68 L343.80,220.22 L344.30,224.80 L344.80,229.93 L345.30,234.56 L345.80,238.90 L346.30,243.58 L346.80,248.30 L347.30,253.11 L347.80,257.17 L348.30,260.74 L348.80,264.56 L349.30,267.70 L349.80,270.47 L350.30,272.87 L350.80,274.76 L351.30,276.46 L351.80,277.81 L352.30,278.85 L352.80,279.88 L353.30,280.37 L353.80,280.90 L354.30,281.26 L354.80,281.52 L355.30,281.69 L355.80,281.85 L356.30,281.93 L356.80,282.08 L357.30,282.11 L357.80,282.17 L358.30,282.20 L358.80,282.20 L359.30,282.20 L359.80,282.20 L360.30,282.20 L360.80,282.14 L361.30,282.14 L361.80,282.15" fill="none" stroke="#000" stroke-width="1.1" stroke-linejoin="round" stroke-dasharray="2.2,1.3"/>
<path d="M298.30,282.20 L298.80,282.14 L299.30,282.10 L299.80,282.20 L300.30,282.20 L300.80,282.20 L301.30,282.20 L301.80,282.20 L302.30,282.20 L302.80,282.20 L303.30,282.20 L303.80,282.20 L304.30,282.20 L304.80,282.20 L305.30,282.20 L305.80,282.20 L306.30,282.17 L306.80,282.17 L307.30,282.14 L307.80,282.07 L308.30,282.02 L308.80,281.95 L309.30,281.93 L309.80,281.95 L310.30,281.93 L310.80,281.94 L311.30,282.02 L311.80,282.05 L312.30,282.09 L312.80,282.00 L313.30,282.03 L313.80,282.03 L314.30,282.07 L314.80,282.07 L315.30,282.20 L315.80,282.16 L316.30,282.20 L316.80,282.20 L317.30,282.20 L317.80,282.20 L318.30,282.20 L318.80,282.20 L319.30,282.20 L319.80,282.20 L320.30,282.20 L320.80,282.20 L321.30,282.20 L321.80,282.20 L322.30,282.20 L322.80,282.20 L323.30,282.20 L323.80,282.20 L324.30,282.13 L324.80,282.15 L325.30,282.14 L325.80,282.06 L326.30,282.13 L326.80,282.10 L327.30,282.12 L327.80,282.19 L328.30,282.17 L328.80,282.15 L329.30,282.13 L329.80,282.10 L330.30,282.16 L330.80,282.14 L331.30,282.13 L331.80,282.17 L332.30,282.14 L332.80,282.18 L333.30,282.20 L333.80,282.11 L334.30,282.11 L334.80,282.14 L335.30,282.10 L335.80,282.06 L336.30,282.02 L336.80,281.84 L337.30,281.80 L337.80,281.47 L338.30,280.96 L338.80,280.23 L339.30,279.37 L339.80,278.10 L340.30,276.55 L340.80,274.30 L341.30,271.98 L341.80,268.85 L342.30,265.35 L342.80,261.28 L343.30,256.71 L343.80,251.07 L344.30,245.13 L344.80,238.69 L345.30,232.17 L345.80,226.13 L346.30,220.33 L346.80,215.11 L347.30,211.64 L347.80,208.88 L348.30,207.40 L348.80,207.68 L349.30,208.52 L349.80,210.27 L350.30,213.34 L350.80,216.84 L351.30,221.74 L351.80,226.73 L352.30,232.13 L352.80,237.98 L353.30,244.20 L353.80,249.57 L354.30,254.47 L354.80,259.17 L355.30,263.34 L355.80,266.91 L356.30,270.14 L356.80,272.53 L357.30,274.72 L357.80,276.59 L358.30,277.94 L358.80,279.07 L359.30,279.98 L359.80,280.51 L360.30,280.99 L360.80,281.40 L361.30,281.61 L361.80,281.79" fill="none" stroke="#000" stroke-width="1.1" stroke-linejoin="round"/>
<line x1="297.30" y1="283.20" x2="362.50" y2="283.20" stroke="#111" stroke-width="1.2"/>
<line x1="362.50" y1="203.00" x2="362.50" y2="283.20" stroke="#222" stroke-width="1.1"/>
<line x1="297.30" y1="202.20" x2="297.30" y2="283.20" stroke="#8a8a8a" stroke-width="1.3"/>
<line x1="296.65" y1="203.00" x2="363.05" y2="203.00" stroke="#000" stroke-width="1.6"/>
<text x="294.30" y="210.70" font-family="Liberation Sans, sans-serif" font-weight="bold" font-size="6" text-anchor="end">100</text>
<line x1="295.10" y1="208.60" x2="296.80" y2="208.60" stroke="#555" stroke-width="0.7"/>
<text x="294.30" y="225.30" font-family="Liberation Sans, sans-serif" font-weight="bold" font-size="6" text-anchor="end">80</text>
<line x1="295.10" y1="223.20" x2="296.80" y2="223.20" stroke="#555" stroke-width="0.7"/>
<text x="294.30" y="239.90" font-family="Liberation Sans, sans-serif" font-weight="bold" font-size="6" text-anchor="end">60</text>
<line x1="295.10" y1="237.80" x2="296.80" y2="237.80" stroke="#555" stroke-width="0.7"/>
<text x="294.30" y="254.50" font-family="Liberation Sans, sans-serif" font-weight="bold" font-size="6" text-anchor="end">40</text>
<line x1="295.10" y1="252.40" x2="296.80" y2="252.40" stroke="#555" stroke-width="0.7"/>
<text x="294.30" y="269.10" font-family="Liberation Sans, sans-serif" font-weight="bold" font-size="6" text-anchor="end">20</text>
<line x1="295.10" y1="267.00" x2="296.80" y2="267.00" stroke="#555" stroke-width="0.7"/>
<text transform="translate(302.70,293.70) scale(0.82,1)" font-family="Liberation Sans, sans-serif" font-weight="bold" font-size="4.3" stroke="#000" stroke-width="0.15">0</text>
<text transform="translate(309.50,293.70) scale(0.82,1)" font-family="Liberation Sans, sans-serif" font-weight="bold" font-size="4.3" stroke="#000" stroke-width="0.15">10</text>
<text transform="translate(314.00,288.50) scale(0.82,1)" font-family="Liberation Sans, sans-serif" font-weight="bold" font-size="4.3" stroke="#000" stroke-width="0.15">2</text>
<text transform="translate(324.10,293.70) scale(0.82,1)" font-family="Liberation Sans, sans-serif" font-weight="bold" font-size="4.3" stroke="#000" stroke-width="0.15">10</text>
<text transform="translate(328.60,288.50) scale(0.82,1)" font-family="Liberation Sans, sans-serif" font-weight="bold" font-size="4.3" stroke="#000" stroke-width="0.15">3</text>
<text transform="translate(339.10,293.70) scale(0.82,1)" font-family="Liberation Sans, sans-serif" font-weight="bold" font-size="4.3" stroke="#000" stroke-width="0.15">10</text>
<text transform="translate(343.60,288.50) scale(0.82,1)" font-family="Liberation Sans, sans-serif" font-weight="bold" font-size="4.3" stroke="#000" stroke-width="0.15">4</text>
<text transform="translate(351.90,293.70) scale(0.82,1)" font-family="Liberation Sans, sans-serif" font-weight="bold" font-size="4.3" stroke="#000" stroke-width="0.15">10</text>
<text transform="translate(356.40,288.50) scale(0.82,1)" font-family="Liberation Sans, sans-serif" font-weight="bold" font-size="4.3" stroke="#000" stroke-width="0.15">5</text>
<text transform="translate(327.60,194.3) scale(0.95,1)" font-family="Liberation Serif, serif" font-weight="bold" font-size="12.8" text-anchor="middle">JAG1</text>
<path d="M381.80,283.20 L381.80,283.20 L382.30,283.20 L382.80,283.20 L383.30,283.02 L383.80,282.83 L384.30,282.95 L384.80,282.97 L385.30,282.83 L385.80,283.16 L386.30,283.15 L386.80,282.73 L387.30,283.06 L387.80,282.18 L388.30,282.27 L388.80,282.20 L389.30,282.54 L389.80,281.82 L390.30,282.58 L390.80,282.44 L391.30,282.54 L391.80,282.55 L392.30,282.99 L392.80,282.73 L393.30,282.77 L393.80,282.72 L394.30,282.76 L394.80,282.09 L395.30,282.01 L395.80,281.68 L396.30,281.55 L396.80,281.29 L397.30,281.41 L397.80,281.05 L398.30,281.47 L398.80,281.14 L399.30,280.97 L399.80,280.32 L400.30,280.43 L400.80,279.37 L401.30,280.16 L401.80,279.71 L402.30,279.33 L402.80,277.43 L403.30,278.66 L403.80,277.86 L404.30,276.63 L404.80,276.24 L405.30,275.61 L405.80,275.18 L406.30,272.01 L406.80,271.45 L407.30,270.21 L407.80,268.99 L408.30,265.33 L408.80,266.44 L409.30,262.14 L409.80,263.55 L410.30,258.99 L410.80,256.78 L411.30,250.57 L411.80,248.87 L412.30,244.18 L412.80,244.15 L413.30,237.65 L413.80,230.55 L414.30,230.36 L414.80,228.53 L415.30,223.60 L415.80,217.76 L416.30,213.85 L416.80,212.60 L417.30,211.52 L417.80,209.49 L418.30,208.63 L418.80,213.55 L419.30,215.94 L419.80,220.76 L420.30,228.16 L420.80,234.17 L421.30,241.47 L421.80,248.93 L422.30,255.70 L422.80,261.98 L423.30,267.19 L423.80,270.90 L424.30,274.34 L424.80,276.99 L425.30,278.94 L425.80,279.68 L426.30,280.65 L426.80,281.33 L427.30,282.26 L427.80,282.71 L428.30,282.69 L428.80,282.99 L429.30,283.20 L429.80,283.20 L430.30,283.20 L430.80,283.20 L431.30,283.20 L431.80,283.20 L432.30,283.20 L432.80,283.20 L433.30,283.20 L433.80,283.20 L434.30,283.20 L434.80,283.20 L435.30,283.20 L435.80,283.20 L436.30,283.20 L436.80,283.12 L437.30,283.05 L437.80,283.04 L438.30,282.99 L438.80,283.20 L439.30,283.19 L439.80,283.20 L440.30,283.20 L440.80,283.20 L441.30,283.20 L441.80,283.20 L442.30,283.20 L442.80,283.20 L443.30,283.20 L443.80,283.20 L444.30,283.20 L444.80,283.20 L445.30,283.20 L445.30,283.20 Z" fill="#000" stroke="none"/>
<path d="M381.80,282.20 L382.30,282.20 L382.80,282.20 L383.30,282.20 L383.80,282.16 L384.30,282.15 L384.80,282.20 L385.30,282.20 L385.80,282.20 L386.30,282.20 L386.80,282.20 L387.30,282.18 L387.80,282.16 L388.30,282.15 L388.80,282.17 L389.30,282.14 L389.80,282.18 L390.30,282.20 L390.80,282.20 L391.30,282.20 L391.80,282.20 L392.30,282.20 L392.80,282.20 L393.30,282.20 L393.80,282.20 L394.30,282.20 L394.80,282.20 L395.30,282.20 L395.80,282.20 L396.30,282.20 L396.80,282.20 L397.30,282.20 L397.80,282.20 L398.30,282.20 L398.80,282.17 L399.30,282.13 L399.80,282.20 L400.30,282.16 L400.80,282.08 L401.30,281.98 L401.80,282.04 L402.30,282.11 L402.80,282.11 L403.30,282.08 L403.80,282.05 L404.30,282.18 L404.80,282.20 L405.30,282.20 L405.80,282.20 L406.30,282.20 L406.80,282.20 L407.30,282.20 L407.80,282.16 L408.30,282.20 L408.80,282.20 L409.30,282.18 L409.80,282.20 L410.30,282.20 L410.80,282.17 L411.30,282.15 L411.80,282.08 L412.30,282.03 L412.80,282.05 L413.30,282.08 L413.80,282.08 L414.30,282.09 L414.80,282.14 L415.30,282.11 L415.80,282.14 L416.30,282.13 L416.80,281.99 L417.30,281.90 L417.80,281.88 L418.30,281.73 L418.80,281.57 L419.30,281.29 L419.80,280.84 L420.30,280.51 L420.80,279.84 L421.30,278.93 L421.80,277.63 L422.30,276.18 L422.80,274.43 L423.30,272.36 L423.80,269.46 L424.30,266.49 L424.80,262.81 L425.30,258.81 L425.80,254.00 L426.30,248.83 L426.80,243.29 L427.30,237.75 L427.80,232.18 L428.30,226.52 L428.80,221.66 L429.30,217.41 L429.80,213.99 L430.30,211.33 L430.80,209.89 L431.30,208.90 L431.80,210.35 L432.30,213.13 L432.80,216.53 L433.30,221.27 L433.80,226.85 L434.30,232.72 L434.80,238.91 L435.30,244.93 L435.80,250.25 L436.30,255.51 L436.80,260.22 L437.30,264.45 L437.80,267.92 L438.30,270.85 L438.80,273.34 L439.30,275.47 L439.80,277.19 L440.30,278.54 L440.80,279.52 L441.30,280.36 L441.80,280.88 L442.30,281.36 L442.80,281.68 L443.30,281.89 L443.80,281.87 L444.30,282.03 L444.80,282.08 L445.30,282.20" fill="none" stroke="#000" stroke-width="1.1" stroke-linejoin="round" stroke-dasharray="2.2,1.3"/>
<path d="M381.80,282.18 L382.30,282.20 L382.80,282.16 L383.30,282.15 L383.80,282.12 L384.30,282.16 L384.80,282.17 L385.30,282.18 L385.80,282.20 L386.30,282.20 L386.80,282.17 L387.30,282.19 L387.80,282.12 L388.30,282.13 L388.80,282.08 L389.30,282.05 L389.80,282.04 L390.30,282.04 L390.80,282.06 L391.30,282.13 L391.80,282.04 L392.30,282.16 L392.80,282.14 L393.30,282.15 L393.80,282.14 L394.30,282.15 L394.80,282.20 L395.30,282.20 L395.80,282.18 L396.30,282.20 L396.80,282.20 L397.30,282.20 L397.80,282.20 L398.30,282.20 L398.80,282.20 L399.30,282.20 L399.80,282.20 L400.30,282.20 L400.80,282.20 L401.30,282.20 L401.80,282.20 L402.30,282.20 L402.80,282.20 L403.30,282.20 L403.80,282.20 L404.30,282.20 L404.80,282.20 L405.30,282.13 L405.80,282.13 L406.30,282.06 L406.80,282.07 L407.30,282.08 L407.80,282.12 L408.30,282.11 L408.80,282.15 L409.30,282.04 L409.80,282.15 L410.30,282.13 L410.80,282.13 L411.30,282.16 L411.80,282.20 L412.30,282.17 L412.80,282.20 L413.30,282.12 L413.80,282.06 L414.30,282.06 L414.80,282.03 L415.30,281.92 L415.80,281.89 L416.30,281.72 L416.80,281.63 L417.30,281.47 L417.80,281.13 L418.30,280.60 L418.80,279.95 L419.30,279.12 L419.80,278.19 L420.30,276.63 L420.80,274.73 L421.30,272.33 L421.80,269.32 L422.30,265.70 L422.80,261.38 L423.30,256.33 L423.80,251.12 L424.30,245.30 L424.80,239.13 L425.30,233.68 L425.80,227.58 L426.30,222.45 L426.80,217.28 L427.30,212.81 L427.80,209.90 L428.30,208.37 L428.80,207.26 L429.30,207.61 L429.80,208.49 L430.30,211.94 L430.80,215.61 L431.30,219.64 L431.80,224.60 L432.30,230.05 L432.80,236.51 L433.30,242.64 L433.80,248.09 L434.30,253.93 L434.80,259.20 L435.30,263.67 L435.80,267.56 L436.30,270.64 L436.80,273.51 L437.30,275.74 L437.80,277.46 L438.30,278.86 L438.80,279.80 L439.30,280.59 L439.80,281.09 L440.30,281.50 L440.80,281.73 L441.30,281.86 L441.80,281.90 L442.30,282.01 L442.80,282.04 L443.30,282.13 L443.80,282.08 L444.30,282.16 L444.80,282.14 L445.30,282.18" fill="none" stroke="#000" stroke-width="1.1" stroke-linejoin="round"/>
<line x1="380.80" y1="283.20" x2="446.30" y2="283.20" stroke="#111" stroke-width="1.2"/>
<line x1="446.30" y1="203.00" x2="446.30" y2="283.20" stroke="#222" stroke-width="1.1"/>
<line x1="380.80" y1="202.20" x2="380.80" y2="283.20" stroke="#8a8a8a" stroke-width="1.3"/>
<line x1="380.15" y1="203.00" x2="446.85" y2="203.00" stroke="#000" stroke-width="1.6"/>
<text x="377.80" y="210.70" font-family="Liberation Sans, sans-serif" font-weight="bold" font-size="6" text-anchor="end">100</text>
<line x1="378.60" y1="208.60" x2="380.30" y2="208.60" stroke="#555" stroke-width="0.7"/>
<text x="377.80" y="225.30" font-family="Liberation Sans, sans-serif" font-weight="bold" font-size="6" text-anchor="end">80</text>
<line x1="378.60" y1="223.20" x2="380.30" y2="223.20" stroke="#555" stroke-width="0.7"/>
<text x="377.80" y="239.90" font-family="Liberation Sans, sans-serif" font-weight="bold" font-size="6" text-anchor="end">60</text>
<line x1="378.60" y1="237.80" x2="380.30" y2="237.80" stroke="#555" stroke-width="0.7"/>
<text x="377.80" y="254.50" font-family="Liberation Sans, sans-serif" font-weight="bold" font-size="6" text-anchor="end">40</text>
<line x1="378.60" y1="252.40" x2="380.30" y2="252.40" stroke="#555" stroke-width="0.7"/>
<text x="377.80" y="269.10" font-family="Liberation Sans, sans-serif" font-weight="bold" font-size="6" text-anchor="end">20</text>
<line x1="378.60" y1="267.00" x2="380.30" y2="267.00" stroke="#555" stroke-width="0.7"/>
<text transform="translate(386.20,293.70) scale(0.82,1)" font-family="Liberation Sans, sans-serif" font-weight="bold" font-size="4.3" stroke="#000" stroke-width="0.15">0</text>
<text transform="translate(393.00,293.70) scale(0.82,1)" font-family="Liberation Sans, sans-serif" font-weight="bold" font-size="4.3" stroke="#000" stroke-width="0.15">10</text>
<text transform="translate(397.50,288.50) scale(0.82,1)" font-family="Liberation Sans, sans-serif" font-weight="bold" font-size="4.3" stroke="#000" stroke-width="0.15">2</text>
<text transform="translate(407.60,293.70) scale(0.82,1)" font-family="Liberation Sans, sans-serif" font-weight="bold" font-size="4.3" stroke="#000" stroke-width="0.15">10</text>
<text transform="translate(412.10,288.50) scale(0.82,1)" font-family="Liberation Sans, sans-serif" font-weight="bold" font-size="4.3" stroke="#000" stroke-width="0.15">3</text>
<text transform="translate(422.60,293.70) scale(0.82,1)" font-family="Liberation Sans, sans-serif" font-weight="bold" font-size="4.3" stroke="#000" stroke-width="0.15">10</text>
<text transform="translate(427.10,288.50) scale(0.82,1)" font-family="Liberation Sans, sans-serif" font-weight="bold" font-size="4.3" stroke="#000" stroke-width="0.15">4</text>
<text transform="translate(435.40,293.70) scale(0.82,1)" font-family="Liberation Sans, sans-serif" font-weight="bold" font-size="4.3" stroke="#000" stroke-width="0.15">10</text>
<text transform="translate(439.90,288.50) scale(0.82,1)" font-family="Liberation Sans, sans-serif" font-weight="bold" font-size="4.3" stroke="#000" stroke-width="0.15">5</text>
<text transform="translate(410.80,194.3) scale(0.95,1)" font-family="Liberation Serif, serif" font-weight="bold" font-size="12.8" text-anchor="middle">JAG2</text>
<rect x="456.2" y="218.3" width="16.3" height="11.7" fill="#000"/>
<line x1="456.2" y1="243.7" x2="472.5" y2="243.7" stroke="#000" stroke-width="1.6" stroke-dasharray="1.6,1.1"/>
<line x1="456.2" y1="262" x2="472.5" y2="262" stroke="#000" stroke-width="1.9"/>
<text x="481.6" y="227.40" font-family="Liberation Serif, serif" font-weight="bold" font-size="12.6">isotype</text>
<text x="481.6" y="245.50" font-family="Liberation Serif, serif" font-weight="bold" font-size="12.6">Notch1</text>
<text x="481.6" y="265.50" font-family="Liberation Serif, serif" font-weight="bold" font-size="12.6">Notch2</text>
<text x="-0.40" y="328.6" font-family="Liberation Sans, sans-serif" font-weight="bold" font-size="20.6">C</text>
<text x="106.30" y="327.8" font-family="Liberation Serif, serif" font-weight="bold" font-size="12.6">NOTCH1</text>
<line x1="39.60" y1="340.92" x2="39.60" y2="464.90" stroke="#8a8a8a" stroke-width="1.5"/>
<line x1="38.90" y1="464.20" x2="226.85" y2="464.20" stroke="#8a8a8a" stroke-width="1.5"/>
<line x1="37.10" y1="464.20" x2="39.60" y2="464.20" stroke="#8a8a8a" stroke-width="1.2"/>
<text transform="translate(34.00,466.80) scale(0.78,1)" font-family="Liberation Sans, sans-serif" font-weight="bold" font-size="7.4" stroke="#000" stroke-width="0.25" text-anchor="end">0</text>
<line x1="37.10" y1="446.66" x2="39.60" y2="446.66" stroke="#8a8a8a" stroke-width="1.2"/>
<text transform="translate(34.00,449.26) scale(0.78,1)" font-family="Liberation Sans, sans-serif" font-weight="bold" font-size="7.4" stroke="#000" stroke-width="0.25" text-anchor="end">10</text>
<line x1="37.10" y1="429.12" x2="39.60" y2="429.12" stroke="#8a8a8a" stroke-width="1.2"/>
<text transform="translate(34.00,431.72) scale(0.78,1)" font-family="Liberation Sans, sans-serif" font-weight="bold" font-size="7.4" stroke="#000" stroke-width="0.25" text-anchor="end">20</text>
<line x1="37.10" y1="411.58" x2="39.60" y2="411.58" stroke="#8a8a8a" stroke-width="1.2"/>
<text transform="translate(34.00,414.18) scale(0.78,1)" font-family="Liberation Sans, sans-serif" font-weight="bold" font-size="7.4" stroke="#000" stroke-width="0.25" text-anchor="end">30</text>
<line x1="37.10" y1="394.04" x2="39.60" y2="394.04" stroke="#8a8a8a" stroke-width="1.2"/>
<text transform="translate(34.00,396.64) scale(0.78,1)" font-family="Liberation Sans, sans-serif" font-weight="bold" font-size="7.4" stroke="#000" stroke-width="0.25" text-anchor="end">40</text>
<line x1="37.10" y1="376.50" x2="39.60" y2="376.50" stroke="#8a8a8a" stroke-width="1.2"/>
<text transform="translate(34.00,379.10) scale(0.78,1)" font-family="Liberation Sans, sans-serif" font-weight="bold" font-size="7.4" stroke="#000" stroke-width="0.25" text-anchor="end">50</text>
<line x1="37.10" y1="358.96" x2="39.60" y2="358.96" stroke="#8a8a8a" stroke-width="1.2"/>
<text transform="translate(34.00,361.56) scale(0.78,1)" font-family="Liberation Sans, sans-serif" font-weight="bold" font-size="7.4" stroke="#000" stroke-width="0.25" text-anchor="end">60</text>
<line x1="37.10" y1="341.42" x2="39.60" y2="341.42" stroke="#8a8a8a" stroke-width="1.2"/>
<text transform="translate(34.00,344.02) scale(0.78,1)" font-family="Liberation Sans, sans-serif" font-weight="bold" font-size="7.4" stroke="#000" stroke-width="0.25" text-anchor="end">70</text>
<line x1="77.05" y1="464.20" x2="77.05" y2="467.20" stroke="#8a8a8a" stroke-width="1.2"/>
<line x1="114.50" y1="464.20" x2="114.50" y2="467.20" stroke="#8a8a8a" stroke-width="1.2"/>
<line x1="151.95" y1="464.20" x2="151.95" y2="467.20" stroke="#8a8a8a" stroke-width="1.2"/>
<line x1="189.40" y1="464.20" x2="189.40" y2="467.20" stroke="#8a8a8a" stroke-width="1.2"/>
<line x1="226.85" y1="464.20" x2="226.85" y2="467.20" stroke="#8a8a8a" stroke-width="1.2"/>
<text transform="translate(23.60,396.80) rotate(-90)" font-family="Liberation Sans, sans-serif" font-size="10.6" stroke="#000" stroke-width="0.25" text-anchor="middle">Relative luciferase units</text>
<rect x="51.15" y="462.10" width="15.20" height="2.10" fill="#000"/>
<text x="58.75" y="477.3" font-family="Liberation Serif, serif" font-weight="bold" font-size="10.6" text-anchor="middle">control</text>
<line x1="95.85" y1="399.83" x2="95.85" y2="412.81" stroke="#000" stroke-width="1.1"/>
<line x1="94.05" y1="399.83" x2="97.65" y2="399.83" stroke="#000" stroke-width="1.1"/>
<rect x="88.25" y="412.81" width="15.20" height="51.39" fill="#000"/>
<text x="95.85" y="477.3" font-family="Liberation Serif, serif" font-weight="bold" font-size="10.6" text-anchor="middle">DLL1</text>
<line x1="132.75" y1="347.73" x2="132.75" y2="364.40" stroke="#000" stroke-width="1.1"/>
<line x1="130.95" y1="347.73" x2="134.55" y2="347.73" stroke="#000" stroke-width="1.1"/>
<rect x="125.15" y="364.40" width="15.20" height="99.80" fill="#000"/>
<text x="132.75" y="477.3" font-family="Liberation Serif, serif" font-weight="bold" font-size="10.6" text-anchor="middle">DLL4</text>
<line x1="170.00" y1="444.03" x2="170.00" y2="446.84" stroke="#000" stroke-width="1.1"/>
<line x1="168.20" y1="444.03" x2="171.80" y2="444.03" stroke="#000" stroke-width="1.1"/>
<rect x="162.40" y="446.84" width="15.20" height="17.36" fill="#000"/>
<text x="170.00" y="477.3" font-family="Liberation Serif, serif" font-weight="bold" font-size="10.6" text-anchor="middle">JAG1</text>
<line x1="207.00" y1="423.86" x2="207.00" y2="431.58" stroke="#000" stroke-width="1.1"/>
<line x1="205.20" y1="423.86" x2="208.80" y2="423.86" stroke="#000" stroke-width="1.1"/>
<rect x="199.40" y="431.58" width="15.20" height="32.62" fill="#000"/>
<text x="207.00" y="477.3" font-family="Liberation Serif, serif" font-weight="bold" font-size="10.6" text-anchor="middle">JAG2</text>
<text x="252.80" y="328.6" font-family="Liberation Sans, sans-serif" font-weight="bold" font-size="20.6">D</text>
<text x="364.20" y="327.8" font-family="Liberation Serif, serif" font-weight="bold" font-size="12.6">NOTCH2</text>
<line x1="297.20" y1="339.70" x2="297.20" y2="464.80" stroke="#8a8a8a" stroke-width="1.5"/>
<line x1="296.50" y1="464.10" x2="484.45" y2="464.10" stroke="#8a8a8a" stroke-width="1.5"/>
<line x1="294.70" y1="464.10" x2="297.20" y2="464.10" stroke="#8a8a8a" stroke-width="1.2"/>
<text transform="translate(291.60,466.70) scale(0.78,1)" font-family="Liberation Sans, sans-serif" font-weight="bold" font-size="7.4" stroke="#000" stroke-width="0.25" text-anchor="end">0</text>
<line x1="294.70" y1="446.40" x2="297.20" y2="446.40" stroke="#8a8a8a" stroke-width="1.2"/>
<text transform="translate(291.60,449.00) scale(0.78,1)" font-family="Liberation Sans, sans-serif" font-weight="bold" font-size="7.4" stroke="#000" stroke-width="0.25" text-anchor="end">10</text>
<line x1="294.70" y1="428.70" x2="297.20" y2="428.70" stroke="#8a8a8a" stroke-width="1.2"/>
<text transform="translate(291.60,431.30) scale(0.78,1)" font-family="Liberation Sans, sans-serif" font-weight="bold" font-size="7.4" stroke="#000" stroke-width="0.25" text-anchor="end">20</text>
<line x1="294.70" y1="411.00" x2="297.20" y2="411.00" stroke="#8a8a8a" stroke-width="1.2"/>
<text transform="translate(291.60,413.60) scale(0.78,1)" font-family="Liberation Sans, sans-serif" font-weight="bold" font-size="7.4" stroke="#000" stroke-width="0.25" text-anchor="end">30</text>
<line x1="294.70" y1="393.30" x2="297.20" y2="393.30" stroke="#8a8a8a" stroke-width="1.2"/>
<text transform="translate(291.60,395.90) scale(0.78,1)" font-family="Liberation Sans, sans-serif" font-weight="bold" font-size="7.4" stroke="#000" stroke-width="0.25" text-anchor="end">40</text>
<line x1="294.70" y1="375.60" x2="297.20" y2="375.60" stroke="#8a8a8a" stroke-width="1.2"/>
<text transform="translate(291.60,378.20) scale(0.78,1)" font-family="Liberation Sans, sans-serif" font-weight="bold" font-size="7.4" stroke="#000" stroke-width="0.25" text-anchor="end">50</text>
<line x1="294.70" y1="357.90" x2="297.20" y2="357.90" stroke="#8a8a8a" stroke-width="1.2"/>
<text transform="translate(291.60,360.50) scale(0.78,1)" font-family="Liberation Sans, sans-serif" font-weight="bold" font-size="7.4" stroke="#000" stroke-width="0.25" text-anchor="end">60</text>
<line x1="294.70" y1="340.20" x2="297.20" y2="340.20" stroke="#8a8a8a" stroke-width="1.2"/>
<text transform="translate(291.60,342.80) scale(0.78,1)" font-family="Liberation Sans, sans-serif" font-weight="bold" font-size="7.4" stroke="#000" stroke-width="0.25" text-anchor="end">70</text>
<line x1="334.65" y1="464.10" x2="334.65" y2="467.10" stroke="#8a8a8a" stroke-width="1.2"/>
<line x1="372.10" y1="464.10" x2="372.10" y2="467.10" stroke="#8a8a8a" stroke-width="1.2"/>
<line x1="409.55" y1="464.10" x2="409.55" y2="467.10" stroke="#8a8a8a" stroke-width="1.2"/>
<line x1="447.00" y1="464.10" x2="447.00" y2="467.10" stroke="#8a8a8a" stroke-width="1.2"/>
<line x1="484.45" y1="464.10" x2="484.45" y2="467.10" stroke="#8a8a8a" stroke-width="1.2"/>
<text transform="translate(279.50,398.30) rotate(-90)" font-family="Liberation Sans, sans-serif" font-size="10.6" stroke="#000" stroke-width="0.25" text-anchor="middle">Relative luciferase units</text>
<rect x="308.40" y="462.51" width="15.20" height="1.59" fill="#000"/>
<text x="316.00" y="477.3" font-family="Liberation Serif, serif" font-weight="bold" font-size="10.6" text-anchor="middle">control</text>
<line x1="353.50" y1="449.06" x2="353.50" y2="450.65" stroke="#000" stroke-width="1.1"/>
<line x1="351.70" y1="449.06" x2="355.30" y2="449.06" stroke="#000" stroke-width="1.1"/>
<rect x="345.90" y="450.65" width="15.20" height="13.45" fill="#000"/>
<text x="353.50" y="477.3" font-family="Liberation Serif, serif" font-weight="bold" font-size="10.6" text-anchor="middle">DLL1</text>
<line x1="390.50" y1="449.23" x2="390.50" y2="449.94" stroke="#000" stroke-width="1.1"/>
<line x1="388.70" y1="449.23" x2="392.30" y2="449.23" stroke="#000" stroke-width="1.1"/>
<rect x="382.90" y="449.94" width="15.20" height="14.16" fill="#000"/>
<text x="390.50" y="477.3" font-family="Liberation Serif, serif" font-weight="bold" font-size="10.6" text-anchor="middle">DLL4</text>
<line x1="427.55" y1="443.39" x2="427.55" y2="448.52" stroke="#000" stroke-width="1.1"/>
<line x1="425.75" y1="443.39" x2="429.35" y2="443.39" stroke="#000" stroke-width="1.1"/>
<rect x="419.95" y="448.52" width="15.20" height="15.58" fill="#000"/>
<text x="427.55" y="477.3" font-family="Liberation Serif, serif" font-weight="bold" font-size="10.6" text-anchor="middle">JAG1</text>
<line x1="464.55" y1="449.23" x2="464.55" y2="449.94" stroke="#000" stroke-width="1.1"/>
<line x1="462.75" y1="449.23" x2="466.35" y2="449.23" stroke="#000" stroke-width="1.1"/>
<rect x="456.95" y="449.94" width="15.20" height="14.16" fill="#000"/>
<text x="464.55" y="477.3" font-family="Liberation Serif, serif" font-weight="bold" font-size="10.6" text-anchor="middle">JAG2</text></svg>
</body></html>
